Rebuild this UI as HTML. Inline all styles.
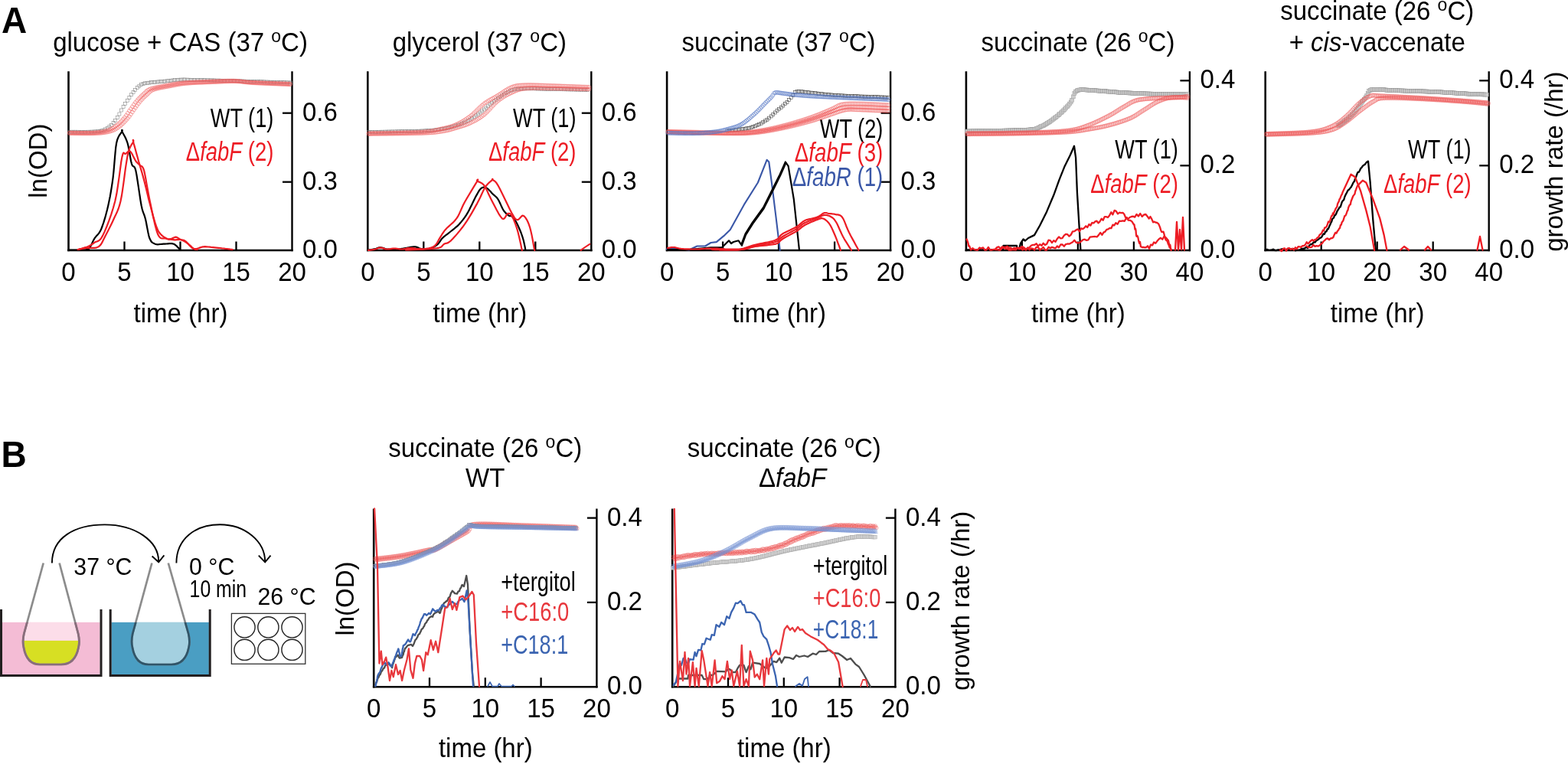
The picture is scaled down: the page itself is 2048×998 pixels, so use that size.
<!DOCTYPE html>
<html><head><meta charset="utf-8"><title>Figure</title>
<style>html,body{margin:0;padding:0;background:#fff;}svg{display:block;}
text{font-family:"Liberation Sans",Arial,Helvetica,sans-serif;}</style></head>
<body>
<svg width="2048" height="998" viewBox="0 0 2048 998" font-family="'Liberation Sans', Arial, Helvetica, sans-serif">
<defs><marker id="m0" markerUnits="userSpaceOnUse" markerWidth="7.1" markerHeight="7.1" refX="3.55" refY="3.55" overflow="visible"><rect x="1.5499999999999998" y="1.5499999999999998" width="4.0" height="4.0" fill="none" stroke="#808080" stroke-width="0.55"/></marker><marker id="m1" markerUnits="userSpaceOnUse" markerWidth="7.8" markerHeight="7.8" refX="3.9" refY="3.9" overflow="visible"><circle cx="3.9" cy="3.9" r="2.4" fill="none" stroke="#ee5a5a" stroke-width="0.5"/></marker><marker id="m2" markerUnits="userSpaceOnUse" markerWidth="7.1" markerHeight="7.1" refX="3.55" refY="3.55" overflow="visible"><rect x="1.5499999999999998" y="1.5499999999999998" width="4.0" height="4.0" fill="none" stroke="#3a3a3a" stroke-width="0.55"/></marker><marker id="m3" markerUnits="userSpaceOnUse" markerWidth="8.2" markerHeight="8.2" refX="4.1" refY="4.1" overflow="visible"><circle cx="4.1" cy="4.1" r="2.5" fill="none" stroke="#5577c4" stroke-width="0.6"/></marker><marker id="m4" markerUnits="userSpaceOnUse" markerWidth="7.8" markerHeight="7.8" refX="3.9" refY="3.9" overflow="visible"><rect x="1.4" y="1.4" width="5.0" height="5.0" fill="#cdcdcd" stroke="#8a8a8a" stroke-width="0.4"/></marker><marker id="m5" markerUnits="userSpaceOnUse" markerWidth="8.100000000000001" markerHeight="8.100000000000001" refX="4.050000000000001" refY="4.050000000000001" overflow="visible"><circle cx="4.050000000000001" cy="4.050000000000001" r="2.6" fill="none" stroke="#ee5a5a" stroke-width="0.45"/></marker><marker id="m6" markerUnits="userSpaceOnUse" markerWidth="7.5" markerHeight="7.5" refX="3.75" refY="3.75" overflow="visible"><circle cx="3.75" cy="3.75" r="2.3" fill="none" stroke="#ee5a5a" stroke-width="0.45"/></marker><marker id="m7" markerUnits="userSpaceOnUse" markerWidth="6.6" markerHeight="6.6" refX="3.3" refY="3.3" overflow="visible"><rect x="1.4999999999999998" y="1.4999999999999998" width="3.6" height="3.6" fill="none" stroke="#888" stroke-width="0.5"/></marker><marker id="m8" markerUnits="userSpaceOnUse" markerWidth="7.5" markerHeight="7.5" refX="3.75" refY="3.75" overflow="visible"><circle cx="3.75" cy="3.75" r="2.3" fill="none" stroke="#7591d2" stroke-width="0.45"/></marker><marker id="m9" markerUnits="userSpaceOnUse" markerWidth="7.5" markerHeight="7.5" refX="3.75" refY="3.75" overflow="visible"><path d="M3.75,1.4500000000000002l2.3,4.14h-4.6z" fill="none" stroke="#7591d2" stroke-width="0.45"/></marker><marker id="m10" markerUnits="userSpaceOnUse" markerWidth="7.6" markerHeight="7.6" refX="3.8" refY="3.8" overflow="visible"><rect x="1.4" y="1.4" width="4.8" height="4.8" fill="#d6d6d6" stroke="#a0a0a0" stroke-width="0.4"/></marker></defs>
<rect width="2048" height="998" fill="#fff"/>
<text transform="translate(2,43) scale(1,1.04)" font-size="46" font-weight="bold">A</text>
<text transform="translate(1.5,609.6) scale(1,1.04)" font-size="46" font-weight="bold">B</text>
<text transform="translate(235.5,67) scale(1,1.04)" font-size="33" text-anchor="middle">glucose + CAS (37 <tspan font-size="23" dy="-12">o</tspan><tspan dy="12">C)</tspan></text>
<text transform="translate(626.3,67) scale(1,1.04)" font-size="33" text-anchor="middle">glycerol (37 <tspan font-size="23" dy="-12">o</tspan><tspan dy="12">C)</tspan></text>
<text transform="translate(1017.1,67) scale(1,1.04)" font-size="33" text-anchor="middle">succinate (37 <tspan font-size="23" dy="-12">o</tspan><tspan dy="12">C)</tspan></text>
<text transform="translate(1407.9,67) scale(1,1.04)" font-size="33" text-anchor="middle">succinate (26 <tspan font-size="23" dy="-12">o</tspan><tspan dy="12">C)</tspan></text>
<text transform="translate(1798.7,26.2) scale(1,1.04)" font-size="33" text-anchor="middle">succinate (26 <tspan font-size="23" dy="-12">o</tspan><tspan dy="12">C)</tspan></text>
<text transform="translate(1798.7,67) scale(1,1.04)" font-size="33" text-anchor="middle">+ <tspan font-style="italic">cis</tspan>-vaccenate</text>
<line x1="89.5" y1="93.2" x2="89.5" y2="328.2" stroke="#000" stroke-width="2.6" stroke-linecap="butt"/>
<line x1="381.5" y1="93.2" x2="381.5" y2="328.2" stroke="#000" stroke-width="2.4" stroke-linecap="butt"/>
<line x1="88.2" y1="327" x2="382.7" y2="327" stroke="#000" stroke-width="2.4" stroke-linecap="butt"/>
<line x1="162.5" y1="327" x2="162.5" y2="315.5" stroke="#000" stroke-width="2.3" stroke-linecap="butt"/>
<line x1="235.5" y1="327" x2="235.5" y2="315.5" stroke="#000" stroke-width="2.3" stroke-linecap="butt"/>
<line x1="308.5" y1="327" x2="308.5" y2="315.5" stroke="#000" stroke-width="2.3" stroke-linecap="butt"/>
<line x1="381.5" y1="237.7" x2="369" y2="237.7" stroke="#000" stroke-width="2.3" stroke-linecap="butt"/>
<line x1="381.5" y1="147.7" x2="369" y2="147.7" stroke="#000" stroke-width="2.3" stroke-linecap="butt"/>
<text transform="translate(89.5,367) scale(1,1.04)" font-size="33" text-anchor="middle" fill="#000">0</text>
<text transform="translate(162.5,367) scale(1,1.04)" font-size="33" text-anchor="middle" fill="#000">5</text>
<text transform="translate(235.5,367) scale(1,1.04)" font-size="33" text-anchor="middle" fill="#000">10</text>
<text transform="translate(308.5,367) scale(1,1.04)" font-size="33" text-anchor="middle" fill="#000">15</text>
<text transform="translate(381.5,367) scale(1,1.04)" font-size="33" text-anchor="middle" fill="#000">20</text>
<text transform="translate(395,247.7) scale(1,1.04)" font-size="33" text-anchor="start" fill="#000">0.3</text>
<text transform="translate(395,157.7) scale(1,1.04)" font-size="33" text-anchor="start" fill="#000">0.6</text>
<text transform="translate(395,337) scale(1,1.04)" font-size="33" text-anchor="start" fill="#000">0.0</text>
<text transform="translate(236,421) scale(1,1.04)" font-size="33" text-anchor="middle" fill="#000">time (hr)</text>
<line x1="480.3" y1="93.2" x2="480.3" y2="328.2" stroke="#000" stroke-width="2.6" stroke-linecap="butt"/>
<line x1="772.3" y1="93.2" x2="772.3" y2="328.2" stroke="#000" stroke-width="2.4" stroke-linecap="butt"/>
<line x1="479" y1="327" x2="773.5" y2="327" stroke="#000" stroke-width="2.4" stroke-linecap="butt"/>
<line x1="553.3" y1="327" x2="553.3" y2="315.5" stroke="#000" stroke-width="2.3" stroke-linecap="butt"/>
<line x1="626.3" y1="327" x2="626.3" y2="315.5" stroke="#000" stroke-width="2.3" stroke-linecap="butt"/>
<line x1="699.3" y1="327" x2="699.3" y2="315.5" stroke="#000" stroke-width="2.3" stroke-linecap="butt"/>
<line x1="772.3" y1="237.7" x2="759.8" y2="237.7" stroke="#000" stroke-width="2.3" stroke-linecap="butt"/>
<line x1="772.3" y1="147.7" x2="759.8" y2="147.7" stroke="#000" stroke-width="2.3" stroke-linecap="butt"/>
<text transform="translate(480.3,367) scale(1,1.04)" font-size="33" text-anchor="middle" fill="#000">0</text>
<text transform="translate(553.3,367) scale(1,1.04)" font-size="33" text-anchor="middle" fill="#000">5</text>
<text transform="translate(626.3,367) scale(1,1.04)" font-size="33" text-anchor="middle" fill="#000">10</text>
<text transform="translate(699.3,367) scale(1,1.04)" font-size="33" text-anchor="middle" fill="#000">15</text>
<text transform="translate(772.3,367) scale(1,1.04)" font-size="33" text-anchor="middle" fill="#000">20</text>
<text transform="translate(785.8,247.7) scale(1,1.04)" font-size="33" text-anchor="start" fill="#000">0.3</text>
<text transform="translate(785.8,157.7) scale(1,1.04)" font-size="33" text-anchor="start" fill="#000">0.6</text>
<text transform="translate(785.8,337) scale(1,1.04)" font-size="33" text-anchor="start" fill="#000">0.0</text>
<text transform="translate(626.8,421) scale(1,1.04)" font-size="33" text-anchor="middle" fill="#000">time (hr)</text>
<line x1="871.1" y1="93.2" x2="871.1" y2="328.2" stroke="#000" stroke-width="2.6" stroke-linecap="butt"/>
<line x1="1163.1" y1="93.2" x2="1163.1" y2="328.2" stroke="#000" stroke-width="2.4" stroke-linecap="butt"/>
<line x1="869.8" y1="327" x2="1164.3" y2="327" stroke="#000" stroke-width="2.4" stroke-linecap="butt"/>
<line x1="944.1" y1="327" x2="944.1" y2="315.5" stroke="#000" stroke-width="2.3" stroke-linecap="butt"/>
<line x1="1017.1" y1="327" x2="1017.1" y2="315.5" stroke="#000" stroke-width="2.3" stroke-linecap="butt"/>
<line x1="1090.1" y1="327" x2="1090.1" y2="315.5" stroke="#000" stroke-width="2.3" stroke-linecap="butt"/>
<line x1="1163.1" y1="237.7" x2="1150.6" y2="237.7" stroke="#000" stroke-width="2.3" stroke-linecap="butt"/>
<line x1="1163.1" y1="147.7" x2="1150.6" y2="147.7" stroke="#000" stroke-width="2.3" stroke-linecap="butt"/>
<text transform="translate(871.1,367) scale(1,1.04)" font-size="33" text-anchor="middle" fill="#000">0</text>
<text transform="translate(944.1,367) scale(1,1.04)" font-size="33" text-anchor="middle" fill="#000">5</text>
<text transform="translate(1017.1,367) scale(1,1.04)" font-size="33" text-anchor="middle" fill="#000">10</text>
<text transform="translate(1090.1,367) scale(1,1.04)" font-size="33" text-anchor="middle" fill="#000">15</text>
<text transform="translate(1163.1,367) scale(1,1.04)" font-size="33" text-anchor="middle" fill="#000">20</text>
<text transform="translate(1176.6,247.7) scale(1,1.04)" font-size="33" text-anchor="start" fill="#000">0.3</text>
<text transform="translate(1176.6,157.7) scale(1,1.04)" font-size="33" text-anchor="start" fill="#000">0.6</text>
<text transform="translate(1176.6,337) scale(1,1.04)" font-size="33" text-anchor="start" fill="#000">0.0</text>
<text transform="translate(1017.6,421) scale(1,1.04)" font-size="33" text-anchor="middle" fill="#000">time (hr)</text>
<line x1="1261.9" y1="93.2" x2="1261.9" y2="328.2" stroke="#000" stroke-width="2.6" stroke-linecap="butt"/>
<line x1="1553.9" y1="93.2" x2="1553.9" y2="328.2" stroke="#000" stroke-width="2.4" stroke-linecap="butt"/>
<line x1="1260.6" y1="327" x2="1555.1" y2="327" stroke="#000" stroke-width="2.4" stroke-linecap="butt"/>
<line x1="1334.9" y1="327" x2="1334.9" y2="315.5" stroke="#000" stroke-width="2.3" stroke-linecap="butt"/>
<line x1="1407.9" y1="327" x2="1407.9" y2="315.5" stroke="#000" stroke-width="2.3" stroke-linecap="butt"/>
<line x1="1480.9" y1="327" x2="1480.9" y2="315.5" stroke="#000" stroke-width="2.3" stroke-linecap="butt"/>
<line x1="1553.9" y1="216.3" x2="1541.4" y2="216.3" stroke="#000" stroke-width="2.3" stroke-linecap="butt"/>
<line x1="1553.9" y1="105.3" x2="1541.4" y2="105.3" stroke="#000" stroke-width="2.3" stroke-linecap="butt"/>
<text transform="translate(1261.9,367) scale(1,1.04)" font-size="33" text-anchor="middle" fill="#000">0</text>
<text transform="translate(1334.9,367) scale(1,1.04)" font-size="33" text-anchor="middle" fill="#000">10</text>
<text transform="translate(1407.9,367) scale(1,1.04)" font-size="33" text-anchor="middle" fill="#000">20</text>
<text transform="translate(1480.9,367) scale(1,1.04)" font-size="33" text-anchor="middle" fill="#000">30</text>
<text transform="translate(1553.9,367) scale(1,1.04)" font-size="33" text-anchor="middle" fill="#000">40</text>
<text transform="translate(1567.4,226.3) scale(1,1.04)" font-size="33" text-anchor="start" fill="#000">0.2</text>
<text transform="translate(1567.4,115.3) scale(1,1.04)" font-size="33" text-anchor="start" fill="#000">0.4</text>
<text transform="translate(1567.4,337) scale(1,1.04)" font-size="33" text-anchor="start" fill="#000">0.0</text>
<text transform="translate(1408.4,421) scale(1,1.04)" font-size="33" text-anchor="middle" fill="#000">time (hr)</text>
<line x1="1652.7" y1="93.2" x2="1652.7" y2="328.2" stroke="#000" stroke-width="2.6" stroke-linecap="butt"/>
<line x1="1944.7" y1="93.2" x2="1944.7" y2="328.2" stroke="#000" stroke-width="2.4" stroke-linecap="butt"/>
<line x1="1651.4" y1="327" x2="1945.9" y2="327" stroke="#000" stroke-width="2.4" stroke-linecap="butt"/>
<line x1="1725.7" y1="327" x2="1725.7" y2="315.5" stroke="#000" stroke-width="2.3" stroke-linecap="butt"/>
<line x1="1798.7" y1="327" x2="1798.7" y2="315.5" stroke="#000" stroke-width="2.3" stroke-linecap="butt"/>
<line x1="1871.7" y1="327" x2="1871.7" y2="315.5" stroke="#000" stroke-width="2.3" stroke-linecap="butt"/>
<line x1="1944.7" y1="216.3" x2="1932.2" y2="216.3" stroke="#000" stroke-width="2.3" stroke-linecap="butt"/>
<line x1="1944.7" y1="105.3" x2="1932.2" y2="105.3" stroke="#000" stroke-width="2.3" stroke-linecap="butt"/>
<text transform="translate(1652.7,367) scale(1,1.04)" font-size="33" text-anchor="middle" fill="#000">0</text>
<text transform="translate(1725.7,367) scale(1,1.04)" font-size="33" text-anchor="middle" fill="#000">10</text>
<text transform="translate(1798.7,367) scale(1,1.04)" font-size="33" text-anchor="middle" fill="#000">20</text>
<text transform="translate(1871.7,367) scale(1,1.04)" font-size="33" text-anchor="middle" fill="#000">30</text>
<text transform="translate(1944.7,367) scale(1,1.04)" font-size="33" text-anchor="middle" fill="#000">40</text>
<text transform="translate(1958.2,226.3) scale(1,1.04)" font-size="33" text-anchor="start" fill="#000">0.2</text>
<text transform="translate(1958.2,115.3) scale(1,1.04)" font-size="33" text-anchor="start" fill="#000">0.4</text>
<text transform="translate(1958.2,337) scale(1,1.04)" font-size="33" text-anchor="start" fill="#000">0.0</text>
<text transform="translate(1799.2,421) scale(1,1.04)" font-size="33" text-anchor="middle" fill="#000">time (hr)</text>
<text transform="translate(61,210.2) rotate(-90)" font-size="33" text-anchor="middle">ln(OD)</text>
<text transform="translate(2041,211.1) rotate(-90)" font-size="32.4" text-anchor="middle" textLength="235.5" lengthAdjust="spacingAndGlyphs">growth rate (/hr)</text>
<text transform="translate(357.3,165.8) scale(1,1.04)" font-size="33" text-anchor="end" fill="#000" textLength="82.5" lengthAdjust="spacingAndGlyphs">WT (1)</text>
<text transform="translate(357.3,209.8) scale(1,1.04)" font-size="33" text-anchor="end" fill="#ed1c24" textLength="114.5" lengthAdjust="spacingAndGlyphs">&#916;<tspan font-style="italic">fabF</tspan> (2)</text>
<text transform="translate(752.5,165.8) scale(1,1.04)" font-size="33" text-anchor="end" fill="#000" textLength="82.5" lengthAdjust="spacingAndGlyphs">WT (1)</text>
<text transform="translate(752.5,209.8) scale(1,1.04)" font-size="33" text-anchor="end" fill="#ed1c24" textLength="114.5" lengthAdjust="spacingAndGlyphs">&#916;<tspan font-style="italic">fabF</tspan> (2)</text>
<text transform="translate(1153.3,179.6) scale(1,1.04)" font-size="33" text-anchor="end" fill="#000" textLength="82.5" lengthAdjust="spacingAndGlyphs">WT (2)</text>
<text transform="translate(1153.3,211.1) scale(1,1.04)" font-size="33" text-anchor="end" fill="#ed1c24" textLength="115.5" lengthAdjust="spacingAndGlyphs">&#916;<tspan font-style="italic">fabF</tspan> (3)</text>
<text transform="translate(1153.3,243) scale(1,1.04)" font-size="33" text-anchor="end" fill="#3a57a7" textLength="118.5" lengthAdjust="spacingAndGlyphs">&#916;<tspan font-style="italic">fabR</tspan> (1)</text>
<text transform="translate(1538.8,207) scale(1,1.04)" font-size="33" text-anchor="end" fill="#000" textLength="82.5" lengthAdjust="spacingAndGlyphs">WT (1)</text>
<text transform="translate(1538.8,252.1) scale(1,1.04)" font-size="33" text-anchor="end" fill="#ed1c24" textLength="114.5" lengthAdjust="spacingAndGlyphs">&#916;<tspan font-style="italic">fabF</tspan> (2)</text>
<text transform="translate(1921.6,207) scale(1,1.04)" font-size="33" text-anchor="end" fill="#000" textLength="82.5" lengthAdjust="spacingAndGlyphs">WT (1)</text>
<text transform="translate(1921.6,252.1) scale(1,1.04)" font-size="33" text-anchor="end" fill="#ed1c24" textLength="114.5" lengthAdjust="spacingAndGlyphs">&#916;<tspan font-style="italic">fabF</tspan> (2)</text>
<polyline points="90.9,172.2 93.5,172.2 96.1,172.2 98.7,172.2 101.3,172.2 103.9,172.3 106.5,172.3 109.1,172.3 111.7,172.3 114.3,172.2 116.9,172.2 119.5,172.1 122.1,172 124.7,171.9 127.3,171.7 129.9,171.3 132.5,170.8 135.1,170.1 137.7,168.9 140.3,167.3 142.9,165.3 145.5,163.3 148.1,160.7 150.7,157.4 153.3,153.6 155.9,149 158.5,144 161.1,139.5 163.7,135.3 166.3,131.2 168.9,127.4 171.5,123.8 174.1,120.4 176.7,117.4 179.3,114.5 181.9,112.2 184.5,110.5 187.1,109.4 189.7,108.8 192.3,108.4 194.9,108.1 197.5,107.7 200.1,107.5 202.7,107.2 205.3,107 207.9,106.8 210.5,106.5 213.1,106.3 215.7,106.1 218.3,105.8 220.9,105.6 223.5,105.2 226.1,104.9 228.7,104.6 231.3,104.4 233.9,104.2 236.5,104.1 239.1,104 241.7,104 244.3,104.1 246.9,104.2 249.5,104.3 252.1,104.3 254.7,104.4 257.3,104.5 259.9,104.5 262.5,104.6 265.1,104.7 267.7,104.7 270.3,104.8 272.9,104.8 275.5,104.9 278.1,104.9 280.7,105 283.3,105.1 285.9,105.1 288.5,105.2 291.1,105.3 293.7,105.3 296.3,105.4 298.9,105.5 301.5,105.5 304.1,105.6 306.7,105.7 309.3,105.8 311.9,105.9 314.5,105.9 317.1,106 319.7,106.1 322.3,106.2 324.9,106.3 327.5,106.3 330.1,106.4 332.7,106.5 335.3,106.6 337.9,106.7 340.5,106.7 343.1,106.8 345.7,106.9 348.3,107 350.9,107.1 353.5,107.2 356.1,107.2 358.7,107.3 361.3,107.4 363.9,107.5 366.5,107.6 369.1,107.7 371.7,107.7 374.3,107.8 376.9,107.9 379.5,108" fill="none" stroke="none" marker-start="url(#m0)" marker-mid="url(#m0)" marker-end="url(#m0)"/>
<polyline points="90.9,173.4 92.9,173.4 94.9,173.4 96.9,173.5 98.9,173.5 100.9,173.5 102.9,173.6 104.9,173.6 106.9,173.6 108.9,173.6 110.9,173.6 112.9,173.6 114.9,173.6 116.9,173.6 118.9,173.5 120.9,173.4 122.9,173.3 124.9,173.2 126.9,173 128.9,172.8 130.9,172.5 132.9,172.2 134.9,171.9 136.9,171.4 138.9,170.9 140.9,170.3 142.9,169.6 144.9,168.7 146.9,167.7 148.9,166.4 150.9,164.9 152.9,163.4 154.9,161.7 156.9,159.8 158.9,157.7 160.9,155.5 162.9,153.2 164.9,150.7 166.9,147.8 168.9,144.8 170.9,142.1 172.9,139.3 174.9,136.5 176.9,133.8 178.9,131.4 180.9,129.1 182.9,127.1 184.9,125.1 186.9,123.3 188.9,121.5 190.9,119.5 192.9,117.9 194.9,116.8 196.9,116 198.9,115.4 200.9,114.9 202.9,114.4 204.9,114 206.9,113.6 208.9,113.2 210.9,112.9 212.9,112.5 214.9,112.1 216.9,111.8 218.9,111.4 220.9,111 222.9,110.6 224.9,110.2 226.9,109.8 228.9,109.5 230.9,109.2 232.9,108.9 234.9,108.6 236.9,108.4 238.9,108.2 240.9,108 242.9,107.9 244.9,107.7 246.9,107.6 248.9,107.5 250.9,107.4 252.9,107.3 254.9,107.2 256.9,107.1 258.9,107 260.9,107 262.9,106.9 264.9,106.8 266.9,106.7 268.9,106.7 270.9,106.6 272.9,106.5 274.9,106.4 276.9,106.3 278.9,106.2 280.9,106.2 282.9,106.1 284.9,106 286.9,105.9 288.9,105.8 290.9,105.7 292.9,105.6 294.9,105.6 296.9,105.5 298.9,105.5 300.9,105.5 302.9,105.5 304.9,105.5 306.9,105.6 308.9,105.7 310.9,105.9 312.9,106.1 314.9,106.4 316.9,106.7 318.9,106.9 320.9,107.1 322.9,107.3 324.9,107.4 326.9,107.5 328.9,107.6 330.9,107.7 332.9,107.8 334.9,107.9 336.9,108 338.9,108.1 340.9,108.1 342.9,108.2 344.9,108.3 346.9,108.4 348.9,108.5 350.9,108.5 352.9,108.6 354.9,108.7 356.9,108.8 358.9,108.8 360.9,108.9 362.9,109 364.9,109 366.9,109.1 368.9,109.2 370.9,109.3 372.9,109.3 374.9,109.4 376.9,109.5 378.9,109.6" fill="none" stroke="none" marker-start="url(#m1)" marker-mid="url(#m1)" marker-end="url(#m1)"/>
<polyline points="90.9,174.2 92.9,174.2 94.9,174.2 96.9,174.3 98.9,174.3 100.9,174.3 102.9,174.3 104.9,174.4 106.9,174.4 108.9,174.4 110.9,174.4 112.9,174.4 114.9,174.4 116.9,174.4 118.9,174.4 120.9,174.4 122.9,174.3 124.9,174.2 126.9,174.1 128.9,174 130.9,173.9 132.9,173.7 134.9,173.4 136.9,173.1 138.9,172.8 140.9,172.4 142.9,171.9 144.9,171.3 146.9,170.6 148.9,169.8 150.9,168.8 152.9,167.5 154.9,166.1 156.9,164.6 158.9,162.9 160.9,161.1 162.9,159.1 164.9,156.9 166.9,154.6 168.9,152.2 170.9,149.3 172.9,146.4 174.9,143.5 176.9,140.8 178.9,138 180.9,135.3 182.9,132.8 184.9,130.5 186.9,128.4 188.9,126.4 190.9,124.6 192.9,122.8 194.9,120.8 196.9,119 198.9,117.8 200.9,117 202.9,116.3 204.9,115.8 206.9,115.3 208.9,114.9 210.9,114.5 212.9,114.1 214.9,113.8 216.9,113.4 218.9,113 220.9,112.7 222.9,112.3 224.9,111.9 226.9,111.5 228.9,111.1 230.9,110.7 232.9,110.4 234.9,110 236.9,109.7 238.9,109.5 240.9,109.2 242.9,109 244.9,108.9 246.9,108.7 248.9,108.6 250.9,108.4 252.9,108.3 254.9,108.2 256.9,108.1 258.9,108 260.9,107.9 262.9,107.9 264.9,107.8 266.9,107.7 268.9,107.6 270.9,107.5 272.9,107.5 274.9,107.4 276.9,107.3 278.9,107.2 280.9,107.2 282.9,107.1 284.9,107 286.9,106.9 288.9,106.8 290.9,106.7 292.9,106.6 294.9,106.5 296.9,106.5 298.9,106.4 300.9,106.3 302.9,106.3 304.9,106.3 306.9,106.3 308.9,106.3 310.9,106.4 312.9,106.5 314.9,106.6 316.9,106.8 318.9,107.1 320.9,107.4 322.9,107.6 324.9,107.8 326.9,108 328.9,108.1 330.9,108.3 332.9,108.4 334.9,108.5 336.9,108.6 338.9,108.7 340.9,108.8 342.9,108.9 344.9,109 346.9,109.1 348.9,109.1 350.9,109.2 352.9,109.3 354.9,109.4 356.9,109.5 358.9,109.6 360.9,109.6 362.9,109.7 364.9,109.8 366.9,109.9 368.9,110 370.9,110 372.9,110.1 374.9,110.2 376.9,110.3 378.9,110.4" fill="none" stroke="none" marker-start="url(#m1)" marker-mid="url(#m1)" marker-end="url(#m1)"/>
<polyline points="89,326.5 91.8,326.5 95.8,326.5 100.4,326.5 105.1,326.4 109.4,326.3 112.5,326 114.5,325.6 115.7,325.2 116.4,324.6 116.8,323.9 117.3,323.1 118,322 118.9,320.7 119.6,319.1 120.4,317.4 121.3,315.5 122.2,313.6 123.3,311.7 124.6,309.9 126,308.3 127.6,306.6 129.2,304.6 130.8,302.2 132.3,299 133.8,295 135.4,290.3 137,285.2 138.5,279.7 140,274 141.3,268.4 142.5,262.8 143.7,257 144.7,251.2 145.7,245.1 146.7,238.7 147.6,232.1 148.4,224.7 149.1,216.6 149.8,208.2 150.5,200.2 151.2,192.9 152.1,187 153.2,182.5 154.6,179.1 156,176.5 157.4,174.6 158.6,173 159.4,171.7 159.7,170.6 159.7,170 159.4,169.8 159.1,170 159.1,170.6 159.4,171.7 160.2,173.2 161.3,175.2 162.7,177.7 164.1,180.5 165.4,183.6 166.6,187 167.6,191 168.5,195.8 169.4,200.9 170.3,206 171.1,210.5 172,214.1 172.9,216.2 173.7,217.1 174.6,217.5 175.5,218.1 176.4,219.7 177.4,223.1 178.5,228.8 179.7,236.5 181,245.1 182.3,253.8 183.5,261.8 184.6,268.2 185.6,272.7 186.5,275.9 187.4,278.4 188.3,280.7 189.1,283.1 190,286.2 190.9,290.2 191.7,294.7 192.6,299.4 193.5,304 194.4,308.1 195.4,311.3 196.5,313.6 197.5,315.4 198.7,316.6 199.9,317.4 201.2,318.1 202.6,318.7 204.2,319.1 206,319.3 207.8,319.2 209.7,319 211.6,318.8 213.5,318.7 215.4,318.6 217.3,318.5 219.3,318.3 221.2,318.2 222.9,318.2 224.3,318.2 225.4,318.3 226.3,318.5 226.9,318.7 227.6,319 228.2,319.4 229,320 230,320.8 231.2,321.9 232.3,323.1 233.5,324.3 234.4,325.3 235.1,326" fill="none" stroke="#000" stroke-width="2.2" stroke-linejoin="round" stroke-linecap="round"/>
<polyline points="101.6,326 102.7,325.8 104.2,325.5 106,325.1 108.1,324.7 110.3,324.3 112.5,324 115,323.8 117.8,323.9 120.7,323.9 123.6,323.8 126.4,323.3 128.7,322.3 130.6,320.7 132.2,318.7 133.5,316.4 134.8,313.7 136.2,310.9 137.7,307.9 139.4,304.7 141.2,301.3 143.1,297.6 145,293.8 146.8,290 148.5,286.2 150.1,282.7 151.7,279.5 153.2,276.2 154.7,272.5 156.1,268.2 157.5,262.8 158.9,255.8 160.2,247.3 161.5,238.1 162.7,229 163.8,220.7 164.8,214.1 165.6,209.2 166.2,205.6 166.7,202.7 167.2,200.4 167.7,198.3 168.4,196.1 169.3,193.7 170.4,191.5 171.5,189.5 172.5,187.8 173.5,186.3 174.1,185.2 174.3,184.3 174.3,183.5 174,182.9 173.8,182.9 173.8,183.6 174.1,185.2 174.8,188 175.9,191.8 177.1,196.3 178.4,201.1 179.8,206 181,210.5 182.2,214.6 183.3,218.5 184.5,222.4 185.7,226.5 186.9,230.9 188.2,235.7 189.6,241.2 191.1,247.2 192.6,253.5 194.1,259.9 195.7,266.1 197.2,271.8 198.7,277.2 200.1,282.6 201.6,287.8 203.1,292.7 204.6,297 206.2,300.7 208,303.7 209.9,306 211.8,307.9 213.8,309.3 215.6,310.5 217.1,311.5 218.4,312.2 219.4,312.5 220.3,312.6 221.2,312.4 222,312.2 223,312 224.1,311.7 225.2,311.2 226.3,310.7 227.5,310.2 228.6,309.8 229.7,309.7 230.8,309.9 231.8,310.4 232.9,311.1 233.9,311.8 235,312.5 236,313 237,313.3 237.9,313.5 238.9,313.6 239.9,313.9 241,314.3 242.3,315.1 243.8,316.4 245.5,318.3 247.3,320.4 249.2,322.3 251.1,324 253.1,325 255.1,325.2 257.2,324.9 259.3,324.2 261.4,323.4 263.6,322.7 265.7,322.3 267.8,322.2 269.9,322.3 272,322.5 274.1,322.7 276.2,323 278.4,323.2 280.6,323.4 282.9,323.6 285.3,323.8 287.6,324 289.8,324.3 292,324.5 294.2,324.8 296.4,325 298.6,325.3 300.7,325.6 302.4,325.8 303.6,326" fill="none" stroke="#ed1c24" stroke-width="2.2" stroke-linejoin="round" stroke-linecap="round"/>
<polyline points="103.4,325.5 104.7,325.1 106.5,324.7 108.7,324.1 110.9,323.4 113.1,322.7 115,322 116.5,321.3 117.9,320.6 119.2,319.8 120.5,318.9 121.8,318 123.3,316.9 124.9,316 126.5,315.5 128.2,314.9 130,313.7 132,311.5 134.1,307.9 136.6,302.6 139.4,296 142.3,288.4 145.2,280.1 147.9,271.5 150.3,262.8 152.3,253.3 154,242.5 155.6,231.4 157,220.8 158.2,211.8 159.4,205.1 160.4,201.3 161.2,199.7 161.9,199.6 162.5,200.3 163.2,201 164,201 164.9,200.2 165.9,199.3 166.9,198.4 168,197.7 169.1,197.5 170.2,197.9 171.4,199.2 172.6,201.2 173.8,203.7 175.1,206.2 176.3,208.6 177.4,210.5 178.4,211.8 179.4,212.8 180.3,213.6 181.2,214.3 182.1,215.1 183,216 183.9,216.7 184.7,217.1 185.5,217.5 186.3,218.4 187.2,220.1 188.2,223.1 189.2,227.6 190.3,233.2 191.4,239.7 192.7,246.7 194,253.9 195.4,261 197,268.6 198.7,277 200.6,285.6 202.5,293.7 204.4,300.8 206.2,306.1 208,309.3 209.8,311 211.7,311.5 213.5,311.4 215.3,311.3 217.1,311.5 218.9,312 220.8,312.4 222.6,312.7 224.4,313 226.2,313.1 227.9,313.3 229.5,313.3 231,313.2 232.5,313.1 234,313 235.4,313 236.9,313.3 238.4,313.9 240,314.7 241.5,315.6 243,316.6 244.5,317.7 245.9,318.7 247.2,319.8 248.5,320.9 249.8,322.1 250.9,323.3 252.1,324.2 253.1,325 254.1,325.5 255.1,325.8 256,325.9 256.8,325.9 257.5,326 258,326" fill="none" stroke="#ed1c24" stroke-width="2.2" stroke-linejoin="round" stroke-linecap="round"/>
<polyline points="481.5,172.5 484.1,172.4 486.7,172.4 489.3,172.4 491.9,172.3 494.5,172.3 497.1,172.2 499.7,172.2 502.3,172.1 504.9,172.1 507.5,172 510.1,172 512.7,171.9 515.3,171.9 517.9,171.8 520.5,171.8 523.1,171.7 525.7,171.7 528.3,171.6 530.9,171.6 533.5,171.5 536.1,171.5 538.7,171.4 541.3,171.3 543.9,171.2 546.5,171.2 549.1,171.1 551.7,171 554.3,170.9 556.9,170.7 559.5,170.6 562.1,170.4 564.7,170.2 567.3,170 569.9,169.7 572.5,169.4 575.1,169 577.7,168.6 580.3,168.2 582.9,167.7 585.5,167.1 588.1,166.5 590.7,165.8 593.3,165 595.9,164.1 598.5,163.2 601.1,162.2 603.7,161.2 606.3,160.1 608.9,158.9 611.5,157.6 614.1,156.1 616.7,154.5 619.3,152.8 621.9,150.9 624.5,149 627.1,147 629.7,145 632.3,143 634.9,141 637.5,138.8 640.1,136.6 642.7,134.5 645.3,132.3 647.9,130.3 650.5,128.4 653.1,126.6 655.7,124.9 658.3,123.2 660.9,121.6 663.5,120.2 666.1,118.9 668.7,117.9 671.3,117.1 673.9,116.5 676.5,116.2 679.1,116 681.7,115.9 684.3,115.9 686.9,115.8 689.5,115.8 692.1,115.8 694.7,115.8 697.3,115.8 699.9,115.9 702.5,116 705.1,116 707.7,116.1 710.3,116.2 712.9,116.3 715.5,116.3 718.1,116.4 720.7,116.5 723.3,116.5 725.9,116.6 728.5,116.6 731.1,116.7 733.7,116.7 736.3,116.8 738.9,116.8 741.5,116.9 744.1,116.9 746.7,117 749.3,117 751.9,117.1 754.5,117.1 757.1,117.2 759.7,117.2 762.3,117.3 764.9,117.3 767.5,117.4" fill="none" stroke="none" marker-start="url(#m0)" marker-mid="url(#m0)" marker-end="url(#m0)"/>
<polyline points="481.5,174.2 483.5,174.2 485.5,174.1 487.5,174.1 489.5,174 491.5,174 493.5,174 495.5,173.9 497.5,173.9 499.5,173.9 501.5,173.8 503.5,173.8 505.5,173.8 507.5,173.7 509.5,173.7 511.5,173.6 513.5,173.6 515.5,173.6 517.5,173.5 519.5,173.5 521.5,173.4 523.5,173.4 525.5,173.3 527.5,173.3 529.5,173.2 531.5,173.2 533.5,173.1 535.5,173.1 537.5,173 539.5,172.9 541.5,172.9 543.5,172.8 545.5,172.7 547.5,172.6 549.5,172.5 551.5,172.4 553.5,172.2 555.5,172.1 557.5,171.9 559.5,171.7 561.5,171.4 563.5,171.2 565.5,170.8 567.5,170.5 569.5,170 571.5,169.5 573.5,169 575.5,168.5 577.5,168.1 579.5,167.6 581.5,167.2 583.5,166.7 585.5,166.2 587.5,165.7 589.5,165.1 591.5,164.4 593.5,163.7 595.5,162.8 597.5,161.9 599.5,161 601.5,159.9 603.5,158.8 605.5,157.7 607.5,156.4 609.5,155.1 611.5,153.7 613.5,152.3 615.5,150.7 617.5,149.1 619.5,147.2 621.5,145.3 623.5,143.3 625.5,141.4 627.5,139.5 629.5,137.7 631.5,136 633.5,134.5 635.5,133.2 637.5,131.9 639.5,130.7 641.5,129.6 643.5,128.5 645.5,127.4 647.5,126.3 649.5,125.1 651.5,123.9 653.5,122.6 655.5,121.3 657.5,120 659.5,118.6 661.5,117.4 663.5,116.2 665.5,115.1 667.5,114.2 669.5,113.4 671.5,112.8 673.5,112.2 675.5,111.8 677.5,111.6 679.5,111.4 681.5,111.3 683.5,111.2 685.5,111.1 687.5,111.1 689.5,111 691.5,111 693.5,111 695.5,111.1 697.5,111.1 699.5,111.2 701.5,111.2 703.5,111.3 705.5,111.4 707.5,111.4 709.5,111.5 711.5,111.6 713.5,111.7 715.5,111.8 717.5,111.8 719.5,111.9 721.5,112 723.5,112 725.5,112.1 727.5,112.2 729.5,112.2 731.5,112.3 733.5,112.4 735.5,112.5 737.5,112.5 739.5,112.6 741.5,112.7 743.5,112.8 745.5,112.8 747.5,112.9 749.5,113 751.5,113.1 753.5,113.2 755.5,113.2 757.5,113.3 759.5,113.4 761.5,113.5 763.5,113.5 765.5,113.6 767.5,113.7 769.5,113.8" fill="none" stroke="none" marker-start="url(#m1)" marker-mid="url(#m1)" marker-end="url(#m1)"/>
<polyline points="481.5,175 483.5,175 485.5,175 487.5,174.9 489.5,174.9 491.5,174.9 493.5,174.9 495.5,174.9 497.5,174.8 499.5,174.8 501.5,174.8 503.5,174.8 505.5,174.8 507.5,174.7 509.5,174.7 511.5,174.7 513.5,174.7 515.5,174.6 517.5,174.6 519.5,174.6 521.5,174.6 523.5,174.5 525.5,174.5 527.5,174.5 529.5,174.5 531.5,174.4 533.5,174.4 535.5,174.4 537.5,174.3 539.5,174.3 541.5,174.3 543.5,174.2 545.5,174.2 547.5,174.1 549.5,174.1 551.5,174 553.5,173.9 555.5,173.8 557.5,173.7 559.5,173.6 561.5,173.5 563.5,173.4 565.5,173.2 567.5,173 569.5,172.8 571.5,172.5 573.5,172.2 575.5,171.9 577.5,171.6 579.5,171.3 581.5,170.9 583.5,170.5 585.5,170.1 587.5,169.6 589.5,169 591.5,168.4 593.5,167.8 595.5,167.2 597.5,166.6 599.5,166 601.5,165.4 603.5,164.8 605.5,164.2 607.5,163.5 609.5,162.7 611.5,161.9 613.5,161.1 615.5,160.1 617.5,159.1 619.5,158.1 621.5,157.1 623.5,155.9 625.5,154.7 627.5,153.4 629.5,152 631.5,150.5 633.5,148.9 635.5,147 637.5,145 639.5,142.9 641.5,140.7 643.5,138.5 645.5,136.4 647.5,134.4 649.5,132.6 651.5,130.9 653.5,129.5 655.5,128.1 657.5,126.8 659.5,125.5 661.5,124.4 663.5,123.4 665.5,122.4 667.5,121.4 669.5,120.5 671.5,119.6 673.5,118.7 675.5,117.9 677.5,117.3 679.5,116.7 681.5,116.3 683.5,116 685.5,115.7 687.5,115.5 689.5,115.4 691.5,115.3 693.5,115.2 695.5,115.1 697.5,115.1 699.5,115.1 701.5,115.1 703.5,115.2 705.5,115.2 707.5,115.2 709.5,115.3 711.5,115.3 713.5,115.3 715.5,115.4 717.5,115.4 719.5,115.5 721.5,115.5 723.5,115.5 725.5,115.5 727.5,115.6 729.5,115.6 731.5,115.6 733.5,115.7 735.5,115.7 737.5,115.8 739.5,115.8 741.5,115.8 743.5,115.9 745.5,115.9 747.5,116 749.5,116 751.5,116.1 753.5,116.1 755.5,116.2 757.5,116.2 759.5,116.3 761.5,116.3 763.5,116.3 765.5,116.4 767.5,116.4 769.5,116.5" fill="none" stroke="none" marker-start="url(#m1)" marker-mid="url(#m1)" marker-end="url(#m1)"/>
<polyline points="480.8,326.9 481.8,326.7 483.3,326.4 485,326.1 486.7,325.7 488.5,325.3 490,325 491.3,324.7 492.5,324.3 493.6,323.9 494.7,323.6 495.8,323.3 497.1,323.3 498.4,323.5 499.8,323.9 501.2,324.4 502.7,324.9 504.3,325.3 506.1,325.6 508.2,325.7 510.5,325.8 513,325.8 515.5,325.7 517.9,325.6 520,325.5 521.9,325.3 523.5,325.1 525.1,324.8 526.6,324.6 528.3,324.3 530,324 532,323.7 534.1,323.3 536.2,322.9 538.4,322.6 540.4,322.4 542.2,322.4 543.7,322.6 545,323 546.2,323.6 547.4,324.2 548.6,324.7 550,325 551.6,325.2 553.2,325.4 554.9,325.6 556.7,325.6 558.4,325.4 560.2,325.1 562,324.6 563.9,323.8 565.8,323 567.6,322 569.4,320.9 571,319.7 572.4,318.4 573.6,316.9 574.7,315.3 575.8,313.7 576.9,312.1 578.2,310.7 579.6,309.4 580.9,308.3 582.4,307.2 583.9,306.1 585.5,304.9 587.2,303.5 589.1,302 591.2,300.3 593.4,298.6 595.7,296.7 597.9,294.8 599.9,292.7 601.8,290.6 603.6,288.4 605.4,286.1 607.2,283.7 608.9,281.1 610.7,278.2 612.5,274.9 614.4,271.1 616.3,267.2 618.2,263.3 619.9,259.7 621.5,256.6 622.9,254.1 624.2,251.8 625.3,249.9 626.4,248.2 627.5,246.9 628.7,245.8 629.9,245.1 631.1,244.7 632.3,244.7 633.5,244.9 634.7,245.3 635.9,245.8 637.1,246.6 638.3,247.7 639.5,249 640.8,250.3 642,251.7 643.2,253 644.4,254.1 645.6,255.1 646.8,256.2 648,257.3 649.2,258.6 650.4,260.2 651.6,262.3 652.8,264.7 654,267.4 655.2,270.1 656.4,272.5 657.6,274.6 658.8,276.3 660.1,277.8 661.4,279.1 662.7,280.1 663.8,281.1 664.8,281.8 665.6,282.2 666.1,282.2 666.6,282 667.1,281.8 667.6,281.9 668.4,282.5 669.4,283.6 670.5,284.9 671.8,286.5 673.1,288.4 674.4,290.4 675.6,292.7 676.8,295.3 678.1,298.2 679.4,301.3 680.7,304.5 681.8,307.7 682.8,310.7 683.7,313.7 684.4,316.8 685.1,319.9 685.7,322.8 686.1,325.2 686.5,326.9" fill="none" stroke="#000" stroke-width="2.2" stroke-linejoin="round" stroke-linecap="round"/>
<polyline points="481,326.9 482,326.8 483.4,326.6 485.1,326.3 486.8,326.1 488.5,325.8 490,325.5 491.3,325.2 492.4,324.7 493.6,324.3 494.7,323.9 495.8,323.6 497,323.5 498.3,323.6 499.5,324 500.8,324.4 502.1,324.9 503.5,325.3 505,325.5 506.6,325.5 508.2,325.3 509.9,325.1 511.6,324.8 513.3,324.6 515,324.5 516.7,324.6 518.3,324.8 520,325 521.7,325.3 523.3,325.5 525,325.5 526.7,325.4 528.3,325.1 530,324.8 531.7,324.4 533.3,324.1 535,324 536.7,324 538.3,324.2 539.9,324.4 541.6,324.6 543.3,324.9 545,325 546.8,325.1 548.6,325.2 550.4,325.3 552.3,325.3 554.1,325.2 556,325 557.9,324.7 559.9,324.4 561.9,323.9 563.9,323.3 565.7,322.5 567.4,321.5 568.8,320.1 570.1,318.4 571.3,316.6 572.4,314.6 573.4,312.6 574.6,310.7 575.7,308.9 576.7,307.2 577.7,305.5 578.9,303.8 580.2,301.9 581.8,299.9 583.8,297.8 586.2,295.6 588.8,293.3 591.5,290.9 594,288.3 596.3,285.4 598.3,282.3 600,278.9 601.6,275.4 603.2,271.7 605,267.8 607.1,263.8 609.7,259.3 612.7,254.2 615.9,248.9 618.9,243.9 621.5,239.7 623.3,236.7 624.1,235.1 624.2,234.5 623.8,234.7 623.2,235.3 623,236.1 623.3,236.7 624.3,237.1 625.6,237.6 627.2,238.3 629,239.2 630.7,240.4 632.3,242.1 633.7,244.3 635.1,246.9 636.5,249.9 638,253.2 639.6,256.6 641.4,260.2 643.6,264.4 646.1,269.2 648.7,274.3 651.3,279.1 653.8,282.9 655.8,285.4 657.4,286.1 658.8,285.3 660,283.7 661,281.7 662,280 663,279.1 664,278.9 664.9,278.8 665.7,278.9 666.5,279.4 667.4,280.4 668.4,281.8 669.5,283.8 670.7,286.4 671.9,289.3 673.2,292.6 674.4,296.2 675.6,299.9 676.8,304.2 678,309.2 679.2,314.5 680.3,319.6 681.2,323.9 681.9,326.9" fill="none" stroke="#ed1c24" stroke-width="2.2" stroke-linejoin="round" stroke-linecap="round"/>
<polyline points="530,326.5 533.5,326.4 538.4,326.2 544.2,325.9 550.2,325.6 555.7,325.4 560.2,325.1 563.6,324.9 566.5,324.6 569,324.4 571.1,324.1 572.9,323.8 574.6,323.3 576,322.7 576.9,322 577.6,321.2 578.3,320.4 579,319.6 580,318.8 581.2,318.2 582.4,317.9 583.7,317.6 585.2,317.1 586.9,316 589,314.3 591.5,311.8 594.4,308.6 597.6,304.9 600.9,300.9 604.1,296.8 607.1,292.7 610,288.4 612.8,283.9 615.7,279.1 618.4,274.4 620.9,269.9 623.3,265.6 625.4,261.5 627.4,257.5 629.1,253.7 630.8,250.1 632.5,246.8 634.1,244 635.8,241.7 637.6,239.7 639.3,238.1 640.9,236.8 642.2,235.7 643.2,234.9 643.6,234.3 643.6,234 643.3,233.9 643,234 642.9,234.4 643.2,234.9 643.9,235.3 644.7,235.7 645.7,236.2 646.9,237.3 648.5,239.1 650.4,242.1 652.9,246.8 656,253 659.4,260 662.8,267.1 665.9,273.4 668.4,278.2 670.2,281.4 671.6,283.7 672.6,285.3 673.5,286.3 674.5,286.8 675.6,287.2 676.9,286.9 678.2,285.7 679.6,284.2 681,282.7 682.3,281.7 683.7,281.8 685.1,282.9 686.5,284.6 687.9,286.8 689.3,289.5 690.6,292.7 691.9,296.3 693.1,300.8 694.4,306.4 695.6,312.5 696.6,318.4 697.5,323.4 698.2,326.9" fill="none" stroke="#ed1c24" stroke-width="2.2" stroke-linejoin="round" stroke-linecap="round"/>
<polyline points="758.6,326.9 764,323 770.3,318.8" fill="none" stroke="#ed1c24" stroke-width="2.1" stroke-linejoin="round" stroke-linecap="round"/>
<polyline points="950,171 952.6,170.7 955.2,170.5 957.8,170.1 960.4,169.8 963,169.4 965.6,169.1 968.2,168.8 970.8,168.5 973.4,168.1 976,167.7 978.6,167.2 981.2,166.5 983.8,165.7 986.4,164.8 989,163.7 991.6,162.4 994.2,161.1 996.8,159.6 999.4,157.9 1002,156.2 1004.6,154.1 1007.2,151.9 1009.8,149.4 1012.4,147 1015,144.6 1017.6,142.4 1020.2,140.2 1022.8,138 1025.4,135.7 1028,133.3 1030.6,130.6 1033.2,127.7 1035.8,124.7 1038.4,120.3 1041,119.5 1043.6,119.5 1046.2,119.6 1048.8,119.9 1051.4,120.2 1054,120.5 1056.6,120.8 1059.2,121.1 1061.8,121.3 1064.4,121.6 1067,122 1069.6,122.3 1072.2,122.6 1074.8,122.9 1077.4,123.2 1080,123.4 1082.6,123.7 1085.2,123.9 1087.8,124.1 1090.4,124.3 1093,124.5 1095.6,124.7 1098.2,124.8 1100.8,124.9 1103.4,125.1 1106,125.2 1108.6,125.3 1111.2,125.4 1113.8,125.5 1116.4,125.6 1119,125.7 1121.6,125.9 1124.2,126 1126.8,126.1 1129.4,126.2 1132,126.2 1134.6,126.3 1137.2,126.4 1139.8,126.5 1142.4,126.6 1145,126.7 1147.6,126.8 1150.2,126.9 1152.8,127 1155.4,127.1 1158,127.2 1160.6,127.3" fill="none" stroke="none" marker-start="url(#m2)" marker-mid="url(#m2)" marker-end="url(#m2)"/>
<polyline points="872.5,171.5 874.5,171.6 876.5,171.6 878.5,171.7 880.5,171.7 882.5,171.8 884.5,171.8 886.5,171.9 888.5,171.9 890.5,172 892.5,172.1 894.5,172.1 896.5,172.2 898.5,172.2 900.5,172.3 902.5,172.3 904.5,172.4 906.5,172.4 908.5,172.5 910.5,172.5 912.5,172.6 914.5,172.7 916.5,172.7 918.5,172.8 920.5,172.8 922.5,172.8 924.5,172.9 926.5,172.9 928.5,173 930.5,173 932.5,173.1 934.5,173.1 936.5,173.1 938.5,173.2 940.5,173.2 942.5,173.2 944.5,173.3 946.5,173.3 948.5,173.3 950.5,173.3 952.5,173.3 954.5,173.3 956.5,173.3 958.5,173.3 960.5,173.3 962.5,173.2 964.5,173.2 966.5,173.1 968.5,173.1 970.5,173 972.5,172.9 974.5,172.7 976.5,172.6 978.5,172.4 980.5,172.2 982.5,172 984.5,171.7 986.5,171.5 988.5,171.2 990.5,170.9 992.5,170.6 994.5,170.3 996.5,170 998.5,169.6 1000.5,169.2 1002.5,168.8 1004.5,168.4 1006.5,168 1008.5,167.6 1010.5,167.1 1012.5,166.7 1014.5,166.2 1016.5,165.7 1018.5,165.2 1020.5,164.7 1022.5,164.2 1024.5,163.7 1026.5,163.2 1028.5,162.7 1030.5,162.1 1032.5,161.6 1034.5,161 1036.5,160.4 1038.5,159.8 1040.5,159.2 1042.5,158.6 1044.5,158 1046.5,157.4 1048.5,156.8 1050.5,156.1 1052.5,155.5 1054.5,154.8 1056.5,154.1 1058.5,153.5 1060.5,152.8 1062.5,152 1064.5,151.3 1066.5,150.5 1068.5,149.8 1070.5,149 1072.5,148.2 1074.5,147.3 1076.5,146.5 1078.5,145.7 1080.5,144.8 1082.5,144 1084.5,143.1 1086.5,142.3 1088.5,141.3 1090.5,140.3 1092.5,139.2 1094.5,138.1 1096.5,137.3 1098.5,136.6 1100.5,136.2 1102.5,135.9 1104.5,135.6 1106.5,135.5 1108.5,135.4 1110.5,135.3 1112.5,135.3 1114.5,135.3 1116.5,135.3 1118.5,135.4 1120.5,135.4 1122.5,135.4 1124.5,135.5 1126.5,135.5 1128.5,135.6 1130.5,135.7 1132.5,135.8 1134.5,135.9 1136.5,135.9 1138.5,136 1140.5,136.1 1142.5,136.2 1144.5,136.3 1146.5,136.4 1148.5,136.5 1150.5,136.7 1152.5,136.8 1154.5,136.9 1156.5,137 1158.5,137.1 1160.5,137.2" fill="none" stroke="none" marker-start="url(#m1)" marker-mid="url(#m1)" marker-end="url(#m1)"/>
<polyline points="872.5,172.5 874.5,172.6 876.5,172.6 878.5,172.7 880.5,172.7 882.5,172.8 884.5,172.8 886.5,172.9 888.5,172.9 890.5,173 892.5,173.1 894.5,173.1 896.5,173.2 898.5,173.2 900.5,173.3 902.5,173.3 904.5,173.4 906.5,173.4 908.5,173.5 910.5,173.5 912.5,173.6 914.5,173.7 916.5,173.7 918.5,173.8 920.5,173.8 922.5,173.8 924.5,173.9 926.5,173.9 928.5,174 930.5,174 932.5,174.1 934.5,174.1 936.5,174.1 938.5,174.2 940.5,174.2 942.5,174.2 944.5,174.3 946.5,174.3 948.5,174.3 950.5,174.3 952.5,174.3 954.5,174.3 956.5,174.3 958.5,174.3 960.5,174.2 962.5,174.2 964.5,174.2 966.5,174.1 968.5,174 970.5,173.9 972.5,173.8 974.5,173.7 976.5,173.5 978.5,173.3 980.5,173.1 982.5,172.9 984.5,172.7 986.5,172.5 988.5,172.2 990.5,172 992.5,171.7 994.5,171.4 996.5,171.1 998.5,170.8 1000.5,170.4 1002.5,170.1 1004.5,169.7 1006.5,169.3 1008.5,169 1010.5,168.6 1012.5,168.1 1014.5,167.7 1016.5,167.3 1018.5,166.9 1020.5,166.4 1022.5,166 1024.5,165.5 1026.5,165 1028.5,164.5 1030.5,164 1032.5,163.5 1034.5,163 1036.5,162.4 1038.5,161.9 1040.5,161.3 1042.5,160.8 1044.5,160.2 1046.5,159.6 1048.5,159 1050.5,158.4 1052.5,157.8 1054.5,157.2 1056.5,156.6 1058.5,156 1060.5,155.3 1062.5,154.6 1064.5,154 1066.5,153.2 1068.5,152.5 1070.5,151.8 1072.5,151 1074.5,150.2 1076.5,149.4 1078.5,148.7 1080.5,147.9 1082.5,147.1 1084.5,146.4 1086.5,145.6 1088.5,144.8 1090.5,144 1092.5,143.2 1094.5,142.4 1096.5,141.7 1098.5,141.3 1100.5,140.9 1102.5,140.6 1104.5,140.4 1106.5,140.2 1108.5,140.1 1110.5,140.1 1112.5,140 1114.5,140 1116.5,140 1118.5,140 1120.5,140 1122.5,140 1124.5,140 1126.5,140.1 1128.5,140.2 1130.5,140.2 1132.5,140.3 1134.5,140.4 1136.5,140.4 1138.5,140.5 1140.5,140.6 1142.5,140.7 1144.5,140.8 1146.5,140.9 1148.5,140.9 1150.5,141 1152.5,141.1 1154.5,141.2 1156.5,141.3 1158.5,141.4 1160.5,141.5" fill="none" stroke="none" marker-start="url(#m1)" marker-mid="url(#m1)" marker-end="url(#m1)"/>
<polyline points="872.5,172.5 874.5,172.5 876.5,172.6 878.5,172.6 880.5,172.7 882.5,172.8 884.5,172.8 886.5,172.9 888.5,172.9 890.5,173 892.5,173 894.5,173.1 896.5,173.1 898.5,173.2 900.5,173.2 902.5,173.3 904.5,173.3 906.5,173.4 908.5,173.4 910.5,173.5 912.5,173.5 914.5,173.6 916.5,173.6 918.5,173.7 920.5,173.7 922.5,173.8 924.5,173.8 926.5,173.9 928.5,173.9 930.5,174 932.5,174 934.5,174 936.5,174.1 938.5,174.1 940.5,174.2 942.5,174.2 944.5,174.2 946.5,174.3 948.5,174.3 950.5,174.3 952.5,174.3 954.5,174.3 956.5,174.4 958.5,174.4 960.5,174.4 962.5,174.4 964.5,174.4 966.5,174.4 968.5,174.4 970.5,174.4 972.5,174.4 974.5,174.3 976.5,174.2 978.5,174.1 980.5,174 982.5,173.8 984.5,173.7 986.5,173.5 988.5,173.3 990.5,173.1 992.5,172.8 994.5,172.5 996.5,172.3 998.5,172 1000.5,171.6 1002.5,171.3 1004.5,171 1006.5,170.6 1008.5,170.3 1010.5,169.9 1012.5,169.5 1014.5,169.1 1016.5,168.7 1018.5,168.3 1020.5,167.9 1022.5,167.5 1024.5,167 1026.5,166.6 1028.5,166.2 1030.5,165.7 1032.5,165.2 1034.5,164.8 1036.5,164.3 1038.5,163.8 1040.5,163.3 1042.5,162.8 1044.5,162.3 1046.5,161.7 1048.5,161.2 1050.5,160.7 1052.5,160.1 1054.5,159.6 1056.5,159 1058.5,158.5 1060.5,157.9 1062.5,157.3 1064.5,156.7 1066.5,156 1068.5,155.3 1070.5,154.7 1072.5,154 1074.5,153.3 1076.5,152.6 1078.5,151.9 1080.5,151.2 1082.5,150.5 1084.5,149.8 1086.5,149.2 1088.5,148.5 1090.5,147.8 1092.5,147.1 1094.5,146.4 1096.5,145.7 1098.5,145.1 1100.5,144.5 1102.5,144 1104.5,143.6 1106.5,143.3 1108.5,143.1 1110.5,143 1112.5,143 1114.5,143.2 1116.5,143.3 1118.5,143.4 1120.5,143.5 1122.5,143.5 1124.5,143.6 1126.5,143.7 1128.5,143.8 1130.5,143.8 1132.5,143.9 1134.5,144 1136.5,144.1 1138.5,144.2 1140.5,144.3 1142.5,144.4 1144.5,144.5 1146.5,144.5 1148.5,144.6 1150.5,144.7 1152.5,144.8 1154.5,144.9 1156.5,145 1158.5,145.1 1160.5,145.2" fill="none" stroke="none" marker-start="url(#m1)" marker-mid="url(#m1)" marker-end="url(#m1)"/>
<polyline points="872.5,173.7 874.3,173.7 876.1,173.8 877.9,173.8 879.7,173.9 881.5,173.9 883.3,174 885.1,174 886.9,174.1 888.7,174.1 890.5,174.1 892.3,174.2 894.1,174.2 895.9,174.2 897.7,174.2 899.5,174.2 901.3,174.2 903.1,174.2 904.9,174.2 906.7,174.2 908.5,174.1 910.3,174 912.1,174 913.9,173.9 915.7,173.8 917.5,173.7 919.3,173.6 921.1,173.4 922.9,173.3 924.7,173.2 926.5,173 928.3,172.8 930.1,172.6 931.9,172.4 933.7,172.2 935.5,172 937.3,171.7 939.1,171.4 940.9,171.1 942.7,170.7 944.5,170.3 946.3,169.8 948.1,169.4 949.9,168.9 951.7,168.4 953.5,167.9 955.3,167.4 957.1,166.9 958.9,166.4 960.7,165.8 962.5,165.2 964.3,164.4 966.1,163.6 967.9,162.7 969.7,161.6 971.5,160.4 973.3,159.1 975.1,157.7 976.9,156.3 978.7,154.8 980.5,153.2 982.3,151.6 984.1,150.1 985.9,148.5 987.7,146.8 989.5,145.1 991.3,143.3 993.1,141.5 994.9,139.6 996.7,137.7 998.5,135.8 1000.3,134 1002.1,132.2 1003.9,130.4 1005.7,128.7 1007.5,126.8 1009.3,124.5 1011.1,121.7 1012.9,120.9 1014.7,120.8 1016.5,121 1018.3,121.3 1020.1,121.6 1021.9,121.8 1023.7,122.1 1025.5,122.3 1027.3,122.5 1029.1,122.8 1030.9,123 1032.7,123.2 1034.5,123.5 1036.3,123.6 1038.1,123.8 1039.9,124 1041.7,124.2 1043.5,124.4 1045.3,124.5 1047.1,124.7 1048.9,124.8 1050.7,125 1052.5,125.1 1054.3,125.2 1056.1,125.4 1057.9,125.5 1059.7,125.6 1061.5,125.7 1063.3,125.8 1065.1,125.9 1066.9,126 1068.7,126.1 1070.5,126.2 1072.3,126.3 1074.1,126.4 1075.9,126.5 1077.7,126.5 1079.5,126.6 1081.3,126.7 1083.1,126.8 1084.9,126.9 1086.7,127 1088.5,127 1090.3,127.1 1092.1,127.2 1093.9,127.3 1095.7,127.4 1097.5,127.4 1099.3,127.5 1101.1,127.6 1102.9,127.7 1104.7,127.7 1106.5,127.8 1108.3,127.9 1110.1,128 1111.9,128 1113.7,128.1 1115.5,128.2 1117.3,128.3 1119.1,128.3 1120.9,128.4 1122.7,128.5 1124.5,128.5 1126.3,128.6 1128.1,128.7 1129.9,128.8 1131.7,128.8 1133.5,128.9 1135.3,129 1137.1,129 1138.9,129.1 1140.7,129.2 1142.5,129.3 1144.3,129.3 1146.1,129.4 1147.9,129.5 1149.7,129.5 1151.5,129.6 1153.3,129.7 1155.1,129.8 1156.9,129.8 1158.7,129.9 1160.5,130" fill="none" stroke="none" marker-start="url(#m3)" marker-mid="url(#m3)" marker-end="url(#m3)"/>
<polyline points="870.8,325.5 880,324 890,325.5 900,326.5 910.5,321.5 921,321.5 928.5,317 935.8,316.1 946.6,307.1 953.8,299.9 971.8,267.4 989.9,238.5 1001.6,208.8 1004.3,211.5 1007.9,238.5 1013.3,281.8 1018.7,326.9" fill="none" stroke="#3a57a7" stroke-width="2.1" stroke-linejoin="round" stroke-linecap="round"/>
<polyline points="872,326 900,326 928.5,323.3 943,323.3 952,314.3 955,318 958,316 964.6,314.3 968.2,319.7 973.6,305.3 982.7,290.9 997.1,271 1009.7,245.8 1018.7,227.7 1025.9,211.5 1029.6,216.9 1036.8,260.2 1044,326.9" fill="none" stroke="#000" stroke-width="2.2" stroke-linejoin="round" stroke-linecap="round"/>
<polyline points="969,321.2 974.4,306.8 983.5,292.4 997.9,272.5 1010.5,247.3 1019.5,229.2 1026.7,213" fill="none" stroke="#000" stroke-width="1.6" stroke-linejoin="round" stroke-linecap="round"/>
<polyline points="872,324 872.8,323.9 874,323.6 875.4,323.4 876.9,323.1 878.5,323 880,323 881.4,323.2 882.8,323.5 884.2,323.9 885.9,324.3 887.7,324.7 890,325 892.8,325.2 895.9,325.3 899.4,325.4 903,325.5 906.6,325.5 910,325.5 913.3,325.4 916.7,325.2 920,325 923.3,324.7 926.7,324.6 930,324.5 933.4,324.6 936.7,324.7 940.1,325 943.5,325.2 946.8,325.4 950,325.5 953.1,325.6 956.2,325.7 959.2,325.7 962.2,325.7 965.2,325.5 968.2,325.1 971.2,324.5 974.2,323.6 977.3,322.6 980.3,321.6 983.3,320.6 986.3,319.7 989.4,319 992.6,318.4 995.8,317.8 998.8,317.2 1001.7,316.7 1004.3,316.1 1006.6,315.5 1008.6,315 1010.4,314.5 1012,314 1013.6,313.3 1015.1,312.5 1016.4,311.5 1017.4,310.4 1018.2,309.2 1019.2,308 1020.5,306.6 1022.3,305.3 1024.8,303.9 1027.8,302.4 1031.1,300.9 1034.5,299.3 1037.7,297.8 1040.4,296.3 1042.6,294.8 1044.3,293.4 1045.9,291.9 1047.5,290.5 1049.2,289.2 1051.2,288.1 1053.7,287.1 1056.5,286.4 1059.4,285.7 1062.3,285 1065.1,284.4 1067.4,283.6 1069.3,282.7 1071,281.6 1072.5,280.6 1073.8,279.6 1075.1,278.8 1076.4,278.2 1077.6,278 1078.7,278 1079.8,278.2 1080.8,278.5 1081.9,278.8 1083,279 1084.2,279.1 1085.5,279.2 1086.8,279.3 1088.1,279.5 1089.5,279.7 1090.9,280 1092.3,280.3 1093.8,280.4 1095.3,280.6 1096.9,281.1 1098.4,282 1099.9,283.6 1101.4,285.9 1102.8,288.9 1104.2,292.3 1105.6,296 1107.2,299.8 1108.9,303.5 1110.9,307.5 1113.3,311.9 1115.8,316.4 1118.1,320.7 1120.1,324.3 1121.5,326.9" fill="none" stroke="#ed1c24" stroke-width="2.2" stroke-linejoin="round" stroke-linecap="round"/>
<polyline points="930,326 934.4,326.1 940.6,326.2 948,326.3 955.5,326.4 962.6,326.3 968.2,326 972.4,325.4 975.7,324.6 978.5,323.7 981,322.7 983.5,321.8 986.3,321 989.4,320.4 992.6,319.9 995.8,319.4 998.8,318.9 1001.7,318.5 1004.3,318 1006.6,317.5 1008.6,317.1 1010.4,316.7 1012,316.2 1013.6,315.7 1015.1,315 1016.4,314.2 1017.4,313.4 1018.2,312.4 1019.2,311.4 1020.5,310.3 1022.3,309 1024.8,307.5 1027.8,305.9 1031.1,304.1 1034.5,302.3 1037.7,300.6 1040.4,299 1042.6,297.5 1044.3,296.1 1045.9,294.8 1047.5,293.4 1049.2,292.2 1051.2,291 1053.7,289.9 1056.5,288.8 1059.4,287.8 1062.3,286.8 1065.1,285.9 1067.4,285 1069.3,284.1 1070.9,283.3 1072.4,282.5 1073.7,281.8 1075,281.3 1076.4,281 1077.9,280.9 1079.4,281 1080.8,281.3 1082.3,281.7 1083.7,282.3 1085,283 1086.2,283.7 1087.4,284.5 1088.5,285.4 1089.6,286.6 1090.7,288.1 1092,290 1093.4,292.5 1094.8,295.5 1096.2,298.8 1097.8,302.3 1099.4,305.8 1101,309 1102.8,312.3 1104.9,315.7 1107.1,319.1 1109.1,322.3 1110.8,325 1112,326.9" fill="none" stroke="#ed1c24" stroke-width="2.2" stroke-linejoin="round" stroke-linecap="round"/>
<polyline points="940,326.5 943.2,326.5 947.7,326.5 953,326.5 958.5,326.4 963.8,326.3 968.2,326 971.8,325.5 975,324.9 977.9,324.1 980.6,323.3 983.4,322.6 986.3,322 989.4,321.6 992.6,321.2 995.8,320.9 998.8,320.6 1001.7,320.3 1004.3,320 1006.6,319.7 1008.6,319.5 1010.4,319.2 1012,319 1013.6,318.6 1015.1,318 1016.4,317.3 1017.4,316.4 1018.2,315.5 1019.2,314.4 1020.5,313.3 1022.3,312 1024.8,310.5 1027.8,308.9 1031.1,307.1 1034.5,305.3 1037.7,303.6 1040.4,302 1042.6,300.5 1044.3,299.1 1045.9,297.8 1047.5,296.5 1049.2,295.3 1051.2,294 1053.7,292.7 1056.5,291.4 1059.5,290.1 1062.4,288.9 1065.1,287.8 1067.4,287 1069.2,286.3 1070.6,285.8 1071.7,285.4 1072.8,285.2 1073.8,285.2 1075,285.5 1076.3,286 1077.7,286.8 1079,287.8 1080.4,289 1081.7,290.4 1083,292 1084.2,293.8 1085.4,295.9 1086.5,298.1 1087.6,300.5 1088.8,303.2 1090,306 1091.4,309.3 1092.9,313.2 1094.4,317.3 1095.9,321.2 1097.1,324.5 1098,326.9" fill="none" stroke="#ed1c24" stroke-width="2.2" stroke-linejoin="round" stroke-linecap="round"/>
<polyline points="1262.6,171.5 1264.2,171.5 1265.8,171.4 1267.4,171.4 1269,171.4 1270.6,171.3 1272.2,171.3 1273.8,171.3 1275.4,171.3 1277,171.2 1278.6,171.2 1280.2,171.2 1281.8,171.2 1283.4,171.1 1285,171.1 1286.6,171.1 1288.2,171 1289.8,171 1291.4,171 1293,171 1294.6,170.9 1296.2,170.9 1297.8,170.9 1299.4,170.8 1301,170.8 1302.6,170.8 1304.2,170.7 1305.8,170.7 1307.4,170.7 1309,170.7 1310.6,170.6 1312.2,170.6 1313.8,170.5 1315.4,170.5 1317,170.5 1318.6,170.4 1320.2,170.4 1321.8,170.4 1323.4,170.3 1325,170.3 1326.6,170.2 1328.2,170.2 1329.8,170.1 1331.4,170.1 1333,170 1334.6,170 1336.2,169.9 1337.8,169.8 1339.4,169.7 1341,169.7 1342.6,169.6 1344.2,169.5 1345.8,169.3 1347.4,169.2 1349,169.1 1350.6,168.9 1352.2,168.6 1353.8,168.2 1355.4,167.4 1357,166.6 1358.6,165.9 1360.2,165.2 1361.8,164.5 1363.4,163.6 1365,162.7 1366.6,161.8 1368.2,160.8 1369.8,159.8 1371.4,158.7 1373,157.6 1374.6,156.5 1376.2,155.4 1377.8,154.2 1379.4,152.9 1381,151.6 1382.6,150.3 1384.2,148.9 1385.8,147.4 1387.4,145.9 1389,144.4 1390.6,142.8 1392.2,141.2 1393.8,139.4 1395.4,137.6 1397,135.6 1398.6,133.4 1400.2,130.9 1401.8,126.4 1403.4,121.9 1405,119.6 1406.6,118.5 1408.2,117.9 1409.8,117.5 1411.4,117.3 1413,117.2 1414.6,117.2 1416.2,117.3 1417.8,117.4 1419.4,117.5 1421,117.6 1422.6,117.7 1424.2,117.9 1425.8,118 1427.4,118.1 1429,118.2 1430.6,118.3 1432.2,118.4 1433.8,118.5 1435.4,118.6 1437,118.7 1438.6,118.8 1440.2,119 1441.8,119.1 1443.4,119.2 1445,119.4 1446.6,119.5 1448.2,119.6 1449.8,119.8 1451.4,119.9 1453,120 1454.6,120.2 1456.2,120.3 1457.8,120.4 1459.4,120.5 1461,120.7 1462.6,120.8 1464.2,120.9 1465.8,121 1467.4,121 1469,121.1 1470.6,121.2 1472.2,121.3 1473.8,121.4 1475.4,121.5 1477,121.5 1478.6,121.6 1480.2,121.7 1481.8,121.8 1483.4,121.8 1485,121.9 1486.6,122 1488.2,122 1489.8,122.1 1491.4,122.2 1493,122.2 1494.6,122.3 1496.2,122.4 1497.8,122.4 1499.4,122.5 1501,122.5 1502.6,122.6 1504.2,122.6 1505.8,122.7 1507.4,122.7 1509,122.7 1510.6,122.8 1512.2,122.8 1513.8,122.8 1515.4,122.9 1517,122.9 1518.6,122.9 1520.2,122.9 1521.8,122.9 1523.4,122.9 1525,122.9 1526.6,122.9 1528.2,122.9 1529.8,122.9 1531.4,122.9 1533,122.9 1534.6,122.9 1536.2,122.9 1537.8,122.9 1539.4,122.9 1541,122.9 1542.6,122.9 1544.2,122.8 1545.8,122.8 1547.4,122.8 1549,122.8 1550.6,122.8" fill="none" stroke="none" marker-start="url(#m4)" marker-mid="url(#m4)" marker-end="url(#m4)"/>
<polyline points="1263.3,174.2 1264.8,174.2 1266.3,174.2 1267.8,174.2 1269.3,174.1 1270.8,174.1 1272.3,174.1 1273.8,174.1 1275.3,174.1 1276.8,174.1 1278.3,174.1 1279.8,174.1 1281.3,174.1 1282.8,174 1284.3,174 1285.8,174 1287.3,174 1288.8,174 1290.3,174 1291.8,174 1293.3,174 1294.8,174 1296.3,173.9 1297.8,173.9 1299.3,173.9 1300.8,173.9 1302.3,173.9 1303.8,173.9 1305.3,173.9 1306.8,173.8 1308.3,173.8 1309.8,173.8 1311.3,173.8 1312.8,173.8 1314.3,173.8 1315.8,173.7 1317.3,173.7 1318.8,173.7 1320.3,173.7 1321.8,173.7 1323.3,173.6 1324.8,173.6 1326.3,173.6 1327.8,173.6 1329.3,173.5 1330.8,173.5 1332.3,173.5 1333.8,173.5 1335.3,173.4 1336.8,173.4 1338.3,173.4 1339.8,173.3 1341.3,173.3 1342.8,173.2 1344.3,173.2 1345.8,173.2 1347.3,173.1 1348.8,173.1 1350.3,173 1351.8,173 1353.3,173 1354.8,172.9 1356.3,172.9 1357.8,172.8 1359.3,172.8 1360.8,172.7 1362.3,172.7 1363.8,172.6 1365.3,172.6 1366.8,172.5 1368.3,172.5 1369.8,172.4 1371.3,172.3 1372.8,172.3 1374.3,172.2 1375.8,172.1 1377.3,172 1378.8,172 1380.3,171.9 1381.8,171.8 1383.3,171.7 1384.8,171.6 1386.3,171.5 1387.8,171.3 1389.3,171.2 1390.8,171.1 1392.3,170.9 1393.8,170.7 1395.3,170.6 1396.8,170.4 1398.3,170.2 1399.8,169.9 1401.3,169.7 1402.8,169.4 1404.3,169.1 1405.8,168.8 1407.3,168.4 1408.8,168 1410.3,167.6 1411.8,167.1 1413.3,166.6 1414.8,166.1 1416.3,165.6 1417.8,165 1419.3,164.4 1420.8,163.9 1422.3,163.3 1423.8,162.8 1425.3,162.2 1426.8,161.5 1428.3,160.9 1429.8,160.3 1431.3,159.6 1432.8,158.9 1434.3,158.2 1435.8,157.5 1437.3,156.8 1438.8,156 1440.3,155.3 1441.8,154.6 1443.3,153.8 1444.8,153 1446.3,152.3 1447.8,151.5 1449.3,150.7 1450.8,149.9 1452.3,149 1453.8,148.2 1455.3,147.3 1456.8,146.3 1458.3,145.4 1459.8,144.4 1461.3,143.5 1462.8,142.5 1464.3,141.6 1465.8,140.7 1467.3,139.8 1468.8,139 1470.3,138.1 1471.8,137.2 1473.3,136.3 1474.8,135.4 1476.3,134.5 1477.8,133.7 1479.3,133 1480.8,132.4 1482.3,131.8 1483.8,131.3 1485.3,130.9 1486.8,130.5 1488.3,130.2 1489.8,130 1491.3,129.8 1492.8,129.6 1494.3,129.4 1495.8,129.2 1497.3,129.1 1498.8,129 1500.3,128.9 1501.8,128.8 1503.3,128.7 1504.8,128.6 1506.3,128.5 1507.8,128.5 1509.3,128.4 1510.8,128.3 1512.3,128.2 1513.8,128.1 1515.3,128 1516.8,128 1518.3,127.9 1519.8,127.9 1521.3,127.8 1522.8,127.8 1524.3,127.7 1525.8,127.7 1527.3,127.7 1528.8,127.7 1530.3,127.6 1531.8,127.6 1533.3,127.6 1534.8,127.5 1536.3,127.5 1537.8,127.4 1539.3,127.3 1540.8,127.2 1542.3,127 1543.8,126.9 1545.3,126.7 1546.8,126.4 1548.3,126.2 1549.8,125.9 1551.3,125.6" fill="none" stroke="none" marker-start="url(#m5)" marker-mid="url(#m5)" marker-end="url(#m5)"/>
<polyline points="1263.3,175.2 1264.8,175.2 1266.3,175.2 1267.8,175.2 1269.3,175.1 1270.8,175.1 1272.3,175.1 1273.8,175.1 1275.3,175.1 1276.8,175.1 1278.3,175.1 1279.8,175 1281.3,175 1282.8,175 1284.3,175 1285.8,175 1287.3,175 1288.8,175 1290.3,174.9 1291.8,174.9 1293.3,174.9 1294.8,174.9 1296.3,174.9 1297.8,174.9 1299.3,174.9 1300.8,174.8 1302.3,174.8 1303.8,174.8 1305.3,174.8 1306.8,174.8 1308.3,174.8 1309.8,174.8 1311.3,174.7 1312.8,174.7 1314.3,174.7 1315.8,174.7 1317.3,174.7 1318.8,174.6 1320.3,174.6 1321.8,174.6 1323.3,174.6 1324.8,174.6 1326.3,174.5 1327.8,174.5 1329.3,174.5 1330.8,174.5 1332.3,174.5 1333.8,174.4 1335.3,174.4 1336.8,174.4 1338.3,174.3 1339.8,174.3 1341.3,174.3 1342.8,174.3 1344.3,174.2 1345.8,174.2 1347.3,174.2 1348.8,174.1 1350.3,174.1 1351.8,174.1 1353.3,174 1354.8,174 1356.3,173.9 1357.8,173.9 1359.3,173.9 1360.8,173.8 1362.3,173.8 1363.8,173.7 1365.3,173.7 1366.8,173.7 1368.3,173.6 1369.8,173.6 1371.3,173.5 1372.8,173.5 1374.3,173.4 1375.8,173.4 1377.3,173.3 1378.8,173.2 1380.3,173.2 1381.8,173.1 1383.3,173 1384.8,173 1386.3,172.9 1387.8,172.8 1389.3,172.7 1390.8,172.7 1392.3,172.6 1393.8,172.5 1395.3,172.4 1396.8,172.3 1398.3,172.2 1399.8,172 1401.3,171.9 1402.8,171.7 1404.3,171.6 1405.8,171.4 1407.3,171.2 1408.8,171 1410.3,170.8 1411.8,170.6 1413.3,170.3 1414.8,170.1 1416.3,169.8 1417.8,169.5 1419.3,169.3 1420.8,169 1422.3,168.8 1423.8,168.5 1425.3,168.3 1426.8,168 1428.3,167.8 1429.8,167.5 1431.3,167.2 1432.8,167 1434.3,166.7 1435.8,166.4 1437.3,166.1 1438.8,165.8 1440.3,165.5 1441.8,165.2 1443.3,164.8 1444.8,164.5 1446.3,164.1 1447.8,163.7 1449.3,163.3 1450.8,162.9 1452.3,162.5 1453.8,162.1 1455.3,161.7 1456.8,161.2 1458.3,160.8 1459.8,160.3 1461.3,159.8 1462.8,159.4 1464.3,158.9 1465.8,158.4 1467.3,157.8 1468.8,157.3 1470.3,156.8 1471.8,156.2 1473.3,155.6 1474.8,155 1476.3,154.4 1477.8,153.7 1479.3,152.9 1480.8,152.1 1482.3,151.3 1483.8,150.4 1485.3,149.4 1486.8,148.4 1488.3,147.4 1489.8,146.4 1491.3,145.4 1492.8,144.5 1494.3,143.5 1495.8,142.6 1497.3,141.7 1498.8,140.7 1500.3,139.7 1501.8,138.7 1503.3,137.7 1504.8,136.8 1506.3,135.9 1507.8,135 1509.3,134.2 1510.8,133.4 1512.3,132.7 1513.8,132 1515.3,131.4 1516.8,130.8 1518.3,130.2 1519.8,129.7 1521.3,129.2 1522.8,128.8 1524.3,128.4 1525.8,128 1527.3,127.8 1528.8,127.5 1530.3,127.3 1531.8,127.2 1533.3,127.1 1534.8,127 1536.3,127.1 1537.8,127.1 1539.3,127.1 1540.8,127.2 1542.3,127.2 1543.8,127.3 1545.3,127.4 1546.8,127.5 1548.3,127.6 1549.8,127.7 1551.3,127.8" fill="none" stroke="none" marker-start="url(#m5)" marker-mid="url(#m5)" marker-end="url(#m5)"/>
<polyline points="1262.6,326.5 1290,326.5 1310,326 1310.5,321 1328,321 1328.5,326 1331,326 1333,317.9 1336.6,312.5 1339,314.5 1343,311 1347.4,308.9 1351,307.1 1358.2,294.5 1367.2,276.4 1376.3,254.8 1383.5,234.9 1390.7,216.9 1397.9,202.5 1403,190.7 1405.1,206.1 1406.9,251.2 1409.6,296.3 1411.4,326.9" fill="none" stroke="#000" stroke-width="2.3" stroke-linejoin="round" stroke-linecap="round"/>
<polyline points="1262.6,312.5 1263.5,314.5 1264.4,317.3 1265.3,321.5 1266.2,321.3 1267.1,323.8 1268,326.5 1270.3,324.3 1272.6,325.9 1274.9,326.5 1277.1,326.5 1279.4,323.5 1281.7,324.5 1284,323.4 1286.3,326.5 1288.6,326.4 1290.9,322.9 1293.1,326.5 1295.4,326.5 1297.7,325.9 1300,325.6 1302.2,323.1 1304.4,322.3 1306.7,324.8 1308.9,322.3 1311.1,322.8 1313.3,323 1315.6,321.8 1317.8,323.9 1320,323.7 1322.2,325.7 1324.4,323.9 1326.7,324.4 1328.9,323.6 1331.1,324.3 1333.3,323.1 1335.6,322.1 1337.8,325.7 1340,325.6 1342.3,324.4 1344.5,323.3 1346.8,320.8 1349.1,319.9 1351.4,319.8 1353.7,318.3 1355.9,321.5 1358.2,319.2 1360.5,320.8 1362.7,317.8 1365,320.1 1367.2,318.8 1369.5,313.7 1371.8,314.1 1374,317.1 1376.3,314.1 1378.5,315.9 1380.8,312 1383,309.4 1385.3,311.4 1387.5,311.2 1389.8,307.7 1392,305.9 1394.3,306.2 1396.5,308.6 1398.8,306.6 1401,302.4 1403.3,302.2 1405.5,300.5 1407.8,299.4 1410,302.3 1412.3,298.2 1414.3,299.2 1416.3,297.6 1418.3,295.3 1420.3,297.1 1422.4,293 1424.4,294.6 1426.4,290.9 1428.4,291.5 1430.4,289.4 1432.5,288.7 1434.5,291.3 1436.6,289.3 1438.6,285.7 1440.7,287.7 1442.7,283.1 1444.8,283.1 1447,284 1449.1,281.5 1451.3,277.2 1453.4,280.4 1455.6,274.9 1457.8,275.9 1460,279.3 1462.1,277.7 1464.3,278.2 1466.5,277.8 1468.3,279.7 1470.1,284 1471.9,284.1 1473.7,287.7 1476.1,287.8 1478.5,289.4 1480.9,293.3 1481.4,293.1 1481.9,295.9 1482.4,299.7 1483,298.5 1483.5,300.7 1484,306.9 1484.5,308.8 1485.4,307.9 1486.3,309.7 1487.2,314.6 1488.1,317.8 1489,316 1489.9,322 1491.7,323 1493.5,322.9 1495.3,323.3 1497.1,323 1499.1,321.3 1501,324.8 1503,319.6 1505.1,320.4 1507.2,316.4 1509.4,317.7 1511.5,314.8 1513.8,312.3 1516,310.8 1518.3,312.7 1520.6,308.5 1523.3,310.9 1526,314.3 1526.8,318.2 1527.6,319.4 1528.4,320.1 1529.2,325.8 1530,326" fill="none" stroke="#ed1c24" stroke-width="2.3" stroke-linejoin="round" stroke-linecap="round"/>
<polyline points="1300,326 1302.2,325.9 1304.4,326.5 1306.7,326.5 1308.9,324.2 1311.1,323.5 1313.3,325.2 1315.6,324.7 1317.8,326.5 1320,326.5 1322.2,326.2 1324.4,326 1326.7,326.4 1328.9,323.9 1331.1,325.3 1333.3,324 1335.6,326.5 1337.8,323.4 1340,326.5 1342.3,323.4 1344.5,326.3 1346.8,324.5 1349.1,324.8 1351.3,326.5 1353.6,322.8 1355.9,323 1358.2,326.5 1360.4,325 1362.7,322.9 1365,326.5 1367.2,326.5 1369.5,322.8 1371.8,324.3 1374,322.8 1376.3,323.6 1378.5,324.4 1380.8,321.5 1383,323.3 1385.3,319.5 1387.5,319.4 1389.8,321.8 1392,319.1 1394.3,318.5 1396.5,318.7 1398.8,317.4 1401,316.2 1403.3,313.8 1405.6,316.7 1407.8,317.4 1410.1,317 1412.3,315.1 1414.6,313.2 1416.9,312.7 1419.1,313.9 1421.4,313.3 1423.7,309.7 1425.9,309.4 1428.2,309.1 1430.4,309 1432.7,309.5 1434.9,307.1 1437.2,303.9 1439.4,306.8 1441.4,303.6 1443.4,302.6 1445.4,299.8 1447.4,299.4 1449.4,297.8 1451.4,298.2 1453.4,293.6 1455.4,294.3 1457.4,291.2 1459.7,292.7 1461.9,288.7 1464.2,288.9 1466.5,288.3 1468.7,288.8 1471,285.1 1473.2,286.1 1475.5,284 1477.8,283 1480,282.6 1482.2,283.6 1484.5,279.9 1486.9,282.5 1489.3,279 1491.7,282.9 1494.1,280.5 1496.5,280 1498.9,283 1500.7,285.6 1502.5,283 1504.3,286.1 1506.1,290.3 1507.9,289.7 1509.7,290.7 1511.5,291 1513.3,292.6 1515.1,296.9 1516.2,300.8 1517.3,303 1518.4,302.8 1519.5,302.7 1520.6,306.2 1521.6,310.7 1522.6,313.1 1523.6,314.4 1524.6,314.6 1525.6,318.2 1526.6,320.2 1527.6,323.1 1528.6,323.6 1529.6,326.9" fill="none" stroke="#ed1c24" stroke-width="2.3" stroke-linejoin="round" stroke-linecap="round"/>
<polyline points="1535,326.5 1537,290 1539,326.5 1541,300 1543,326 1545,284 1547,326.5" fill="none" stroke="#ed1c24" stroke-width="2.3" stroke-linejoin="round" stroke-linecap="round"/>
<polyline points="1748.2,164.1 1749.8,162.9 1751.4,161.8 1753,160.6 1754.6,159.5 1756.2,158.3 1757.8,157.1 1759.4,155.9 1761,154.6 1762.6,153.2 1764.2,151.8 1765.8,150.2 1767.4,148.5 1769,146.7 1770.6,144.7 1772.2,142.7 1773.8,140.6 1775.4,138.5 1777,136.3 1778.6,134.1 1780.2,131.9 1781.8,129.7 1783.4,127.5 1785,125.3 1786.6,122.1 1788.2,118.7 1789.8,117.7 1791.4,117.2 1793,116.9 1794.6,116.8 1796.2,116.7 1797.8,116.7 1799.4,116.8 1801,116.8 1802.6,116.9 1804.2,117.1 1805.8,117.2 1807.4,117.3 1809,117.4 1810.6,117.5 1812.2,117.7 1813.8,117.8 1815.4,117.9 1817,118 1818.6,118 1820.2,118.1 1821.8,118.1 1823.4,118.2 1825,118.3 1826.6,118.3 1828.2,118.4 1829.8,118.4 1831.4,118.5 1833,118.5 1834.6,118.6 1836.2,118.6 1837.8,118.7 1839.4,118.7 1841,118.8 1842.6,118.8 1844.2,118.9 1845.8,118.9 1847.4,119 1849,119 1850.6,119.1 1852.2,119.1 1853.8,119.2 1855.4,119.2 1857,119.3 1858.6,119.4 1860.2,119.4 1861.8,119.5 1863.4,119.5 1865,119.6 1866.6,119.7 1868.2,119.7 1869.8,119.8 1871.4,119.9 1873,119.9 1874.6,120 1876.2,120.1 1877.8,120.2 1879.4,120.2 1881,120.3 1882.6,120.4 1884.2,120.5 1885.8,120.6 1887.4,120.7 1889,120.8 1890.6,120.9 1892.2,121 1893.8,121.1 1895.4,121.2 1897,121.3 1898.6,121.4 1900.2,121.5 1901.8,121.6 1903.4,121.7 1905,121.8 1906.6,121.9 1908.2,122 1909.8,122.1 1911.4,122.2 1913,122.3 1914.6,122.4 1916.2,122.5 1917.8,122.6 1919.4,122.7 1921,122.8 1922.6,122.9 1924.2,122.9 1925.8,123 1927.4,123.1 1929,123.1 1930.6,123.2 1932.2,123.3 1933.8,123.3 1935.4,123.4 1937,123.4 1938.6,123.5 1940.2,123.5 1941.8,123.6" fill="none" stroke="none" marker-start="url(#m4)" marker-mid="url(#m4)" marker-end="url(#m4)"/>
<polyline points="1654.1,174.9 1655.6,174.8 1657.1,174.8 1658.6,174.7 1660.1,174.7 1661.6,174.6 1663.1,174.6 1664.6,174.5 1666.1,174.5 1667.6,174.5 1669.1,174.4 1670.6,174.4 1672.1,174.3 1673.6,174.3 1675.1,174.2 1676.6,174.2 1678.1,174.1 1679.6,174.1 1681.1,174 1682.6,174 1684.1,173.9 1685.6,173.9 1687.1,173.8 1688.6,173.7 1690.1,173.7 1691.6,173.6 1693.1,173.5 1694.6,173.5 1696.1,173.4 1697.6,173.3 1699.1,173.2 1700.6,173.2 1702.1,173.1 1703.6,173 1705.1,172.9 1706.6,172.8 1708.1,172.6 1709.6,172.5 1711.1,172.4 1712.6,172.2 1714.1,172 1715.6,171.8 1717.1,171.6 1718.6,171.4 1720.1,171.1 1721.6,170.9 1723.1,170.6 1724.6,170.2 1726.1,169.9 1727.6,169.5 1729.1,169.1 1730.6,168.6 1732.1,168.1 1733.6,167.5 1735.1,166.9 1736.6,166.3 1738.1,165.6 1739.6,165 1741.1,164.3 1742.6,163.5 1744.1,162.7 1745.6,161.8 1747.1,160.9 1748.6,159.8 1750.1,158.7 1751.6,157.5 1753.1,156.3 1754.6,155 1756.1,153.7 1757.6,152.5 1759.1,151.1 1760.6,149.7 1762.1,148.3 1763.6,146.7 1765.1,145.2 1766.6,143.6 1768.1,142 1769.6,140.4 1771.1,138.8 1772.6,137.3 1774.1,135.9 1775.6,134.6 1777.1,133.3 1778.6,132.1 1780.1,131 1781.6,129.9 1783.1,128.9 1784.6,128 1786.1,127.1 1787.6,126.4 1789.1,125.7 1790.6,125.2 1792.1,124.7 1793.6,124.5 1795.1,124.7 1796.6,124.9 1798.1,125 1799.6,125.1 1801.1,125.2 1802.6,125.3 1804.1,125.4 1805.6,125.4 1807.1,125.5 1808.6,125.5 1810.1,125.6 1811.6,125.7 1813.1,125.7 1814.6,125.8 1816.1,125.9 1817.6,126 1819.1,126 1820.6,126.1 1822.1,126.2 1823.6,126.2 1825.1,126.3 1826.6,126.4 1828.1,126.5 1829.6,126.5 1831.1,126.6 1832.6,126.7 1834.1,126.8 1835.6,126.8 1837.1,126.9 1838.6,127 1840.1,127.1 1841.6,127.1 1843.1,127.2 1844.6,127.3 1846.1,127.4 1847.6,127.5 1849.1,127.6 1850.6,127.6 1852.1,127.7 1853.6,127.8 1855.1,127.9 1856.6,128 1858.1,128.1 1859.6,128.1 1861.1,128.2 1862.6,128.3 1864.1,128.4 1865.6,128.5 1867.1,128.6 1868.6,128.7 1870.1,128.8 1871.6,128.9 1873.1,129 1874.6,129.1 1876.1,129.2 1877.6,129.3 1879.1,129.4 1880.6,129.5 1882.1,129.6 1883.6,129.7 1885.1,129.8 1886.6,129.9 1888.1,130 1889.6,130.1 1891.1,130.2 1892.6,130.3 1894.1,130.4 1895.6,130.5 1897.1,130.6 1898.6,130.7 1900.1,130.8 1901.6,130.9 1903.1,131 1904.6,131.1 1906.1,131.2 1907.6,131.3 1909.1,131.4 1910.6,131.6 1912.1,131.7 1913.6,131.8 1915.1,131.9 1916.6,132 1918.1,132.1 1919.6,132.2 1921.1,132.4 1922.6,132.5 1924.1,132.6 1925.6,132.7 1927.1,132.9 1928.6,133 1930.1,133.1 1931.6,133.2 1933.1,133.4 1934.6,133.5 1936.1,133.6 1937.6,133.8 1939.1,133.9 1940.6,134 1942.1,134.2 1943.6,134.3" fill="none" stroke="none" marker-start="url(#m5)" marker-mid="url(#m5)" marker-end="url(#m5)"/>
<polyline points="1654.1,175.8 1655.6,175.8 1657.1,175.7 1658.6,175.7 1660.1,175.6 1661.6,175.6 1663.1,175.6 1664.6,175.5 1666.1,175.5 1667.6,175.4 1669.1,175.4 1670.6,175.4 1672.1,175.3 1673.6,175.3 1675.1,175.2 1676.6,175.2 1678.1,175.2 1679.6,175.1 1681.1,175.1 1682.6,175 1684.1,175 1685.6,175 1687.1,174.9 1688.6,174.9 1690.1,174.8 1691.6,174.8 1693.1,174.7 1694.6,174.7 1696.1,174.6 1697.6,174.6 1699.1,174.5 1700.6,174.4 1702.1,174.4 1703.6,174.3 1705.1,174.2 1706.6,174.2 1708.1,174.1 1709.6,174 1711.1,173.9 1712.6,173.8 1714.1,173.7 1715.6,173.6 1717.1,173.5 1718.6,173.3 1720.1,173.2 1721.6,173 1723.1,172.9 1724.6,172.7 1726.1,172.5 1727.6,172.3 1729.1,172.1 1730.6,171.8 1732.1,171.5 1733.6,171.2 1735.1,170.9 1736.6,170.4 1738.1,170 1739.6,169.6 1741.1,169.1 1742.6,168.5 1744.1,167.9 1745.6,167.2 1747.1,166.4 1748.6,165.6 1750.1,164.7 1751.6,163.7 1753.1,162.7 1754.6,161.7 1756.1,160.7 1757.6,159.6 1759.1,158.6 1760.6,157.5 1762.1,156.3 1763.6,155.1 1765.1,153.9 1766.6,152.7 1768.1,151.4 1769.6,150.2 1771.1,148.9 1772.6,147.7 1774.1,146.5 1775.6,145.3 1777.1,144.2 1778.6,143.1 1780.1,141.9 1781.6,140.8 1783.1,139.7 1784.6,138.6 1786.1,137.5 1787.6,136.4 1789.1,135.4 1790.6,134.4 1792.1,133.5 1793.6,132.7 1795.1,131.8 1796.6,130.9 1798.1,129.9 1799.6,129.2 1801.1,128.8 1802.6,128.5 1804.1,128.3 1805.6,128.2 1807.1,128.1 1808.6,128 1810.1,127.9 1811.6,127.9 1813.1,127.9 1814.6,127.9 1816.1,127.9 1817.6,127.9 1819.1,127.9 1820.6,127.9 1822.1,127.9 1823.6,128 1825.1,128 1826.6,128 1828.1,128.1 1829.6,128.1 1831.1,128.2 1832.6,128.2 1834.1,128.3 1835.6,128.3 1837.1,128.4 1838.6,128.5 1840.1,128.5 1841.6,128.6 1843.1,128.7 1844.6,128.7 1846.1,128.8 1847.6,128.9 1849.1,128.9 1850.6,129 1852.1,129.1 1853.6,129.1 1855.1,129.2 1856.6,129.3 1858.1,129.3 1859.6,129.4 1861.1,129.5 1862.6,129.6 1864.1,129.7 1865.6,129.7 1867.1,129.8 1868.6,129.9 1870.1,130 1871.6,130.1 1873.1,130.2 1874.6,130.3 1876.1,130.4 1877.6,130.5 1879.1,130.5 1880.6,130.6 1882.1,130.7 1883.6,130.8 1885.1,130.9 1886.6,131 1888.1,131.1 1889.6,131.2 1891.1,131.3 1892.6,131.5 1894.1,131.6 1895.6,131.7 1897.1,131.8 1898.6,131.9 1900.1,132 1901.6,132.1 1903.1,132.2 1904.6,132.3 1906.1,132.4 1907.6,132.5 1909.1,132.6 1910.6,132.8 1912.1,132.9 1913.6,133 1915.1,133.1 1916.6,133.2 1918.1,133.4 1919.6,133.5 1921.1,133.6 1922.6,133.7 1924.1,133.9 1925.6,134 1927.1,134.2 1928.6,134.3 1930.1,134.5 1931.6,134.6 1933.1,134.7 1934.6,134.9 1936.1,135.1 1937.6,135.2 1939.1,135.4 1940.6,135.5 1942.1,135.7 1943.6,135.8" fill="none" stroke="none" marker-start="url(#m5)" marker-mid="url(#m5)" marker-end="url(#m5)"/>
<polyline points="1653,326.5 1655,325.7 1657.1,326.9 1659.1,326.8 1661.2,326.4 1663.2,325.7 1665.3,327.1 1667.3,327.1 1669.3,326.4 1671.4,326.3 1673.4,325.6 1675.5,325.1 1677.5,325.9 1679.6,326.4 1681.6,325.2 1683.7,326.9 1685.7,325.5 1687.7,325.5 1689.8,325 1691.8,327.3 1693.9,326.6 1695.9,326.9 1698,326.3 1700,324.9 1702,324.8 1704,324.5 1706,322.8 1708,324.1 1710,321 1712.1,318.9 1713.9,319.1 1715.8,316.1 1717.6,316.7 1719.4,314.2 1721.6,313 1723.8,311.1 1726,310 1727.3,307.6 1728.6,305.5 1729.9,305.8 1731.2,302.6 1732.5,302.3 1733.8,299.2 1734.7,299.2 1735.6,297.2 1736.5,295.1 1737.4,293.3 1738.3,291 1739.2,289.6 1740.1,286.3 1741,285.3 1742.1,284.4 1743.2,281.1 1744.2,281 1745.3,279.1 1746.4,276.2 1747.5,274.3 1748.6,272.7 1749.6,270.7 1750.7,270.4 1751.8,267.1 1752.7,264.2 1753.6,262.4 1754.5,261.8 1755.4,260.5 1756.3,257.3 1757.2,255.2 1758.1,253.3 1759,251.8 1760.5,248.7 1761.9,247.8 1763.4,245.9 1764.8,244.2 1766.3,241.3 1767.2,239.3 1768.1,237.7 1769,237 1769.9,233.6 1770.8,232.2 1771.7,229.5 1772.6,227 1773.5,224.9 1774.7,224.9 1775.9,223 1777.1,220.2 1778.3,219.1 1779.5,217.3 1780.7,216.1 1782.8,214.7 1784.9,211.9 1787,210.6 1789.7,238.5 1793.3,287.2 1796.9,326.9" fill="none" stroke="#000" stroke-width="2.3" stroke-linejoin="round" stroke-linecap="round"/>
<polyline points="1672,326.5 1674,328 1676,324.9 1678,324.3 1680,327.6 1682,324.5 1684,324.1 1686,325.9 1688,324.6 1690,326.4 1691.9,323.3 1693.7,325.1 1695.6,322.1 1697.5,322.3 1699.4,322.8 1701.2,321.1 1703.1,321.2 1704.9,319.5 1706.7,316.3 1708.5,318.4 1710.3,316.4 1712.2,314.5 1714,313.2 1715.8,314.7 1717.6,312.8 1719.1,312.6 1720.6,310.5 1722.1,309.7 1723.6,306.7 1725.1,305.7 1726.6,303.9 1727.8,300.8 1729,301.5 1730.2,297.4 1731.4,297.3 1732.6,296.1 1733.8,293.2 1735,289.5 1736.2,290.2 1737.4,287.8 1738.3,284.3 1739.2,282 1740.1,281.9 1741,278.3 1741.9,279.7 1742.8,276.4 1743.7,274.7 1744.6,272.5 1745.4,271.4 1746.2,270.4 1747.1,266.2 1747.9,264.5 1748.7,263.3 1749.5,260.3 1750.3,259.4 1751.1,257.2 1752,254.9 1752.8,253.8 1753.6,251.2 1764.5,227.7 1769.9,231.3 1777.1,249.4 1784.3,274.6 1789.7,296.3 1795.1,326.9" fill="none" stroke="#ed1c24" stroke-width="2.3" stroke-linejoin="round" stroke-linecap="round"/>
<polyline points="1706.7,321.5 1708.9,323 1711,323.1 1713.2,322.9 1715.3,320 1717.5,321.8 1719.7,321.2 1721.8,321.6 1724,320.2 1725.5,318.6 1727.1,317.7 1728.7,315.1 1730.2,314.1 1732.2,311.9 1734.1,311.5 1736.1,313.1 1738,311.4 1740,311 1741.4,310 1742.7,306.8 1744.1,303.9 1745.5,304.6 1746.8,302.1 1748.2,300.5 1749.1,298.5 1750,298 1750.9,294 1751.8,293.6 1752.7,290.4 1753.6,289.3 1754.5,287.8 1755.4,284.8 1756.3,282.1 1757.2,281.7 1758,280.6 1758.9,278.2 1759.7,275.7 1760.5,274.5 1761.3,270.8 1762.2,268.9 1763,267.4 1763.8,267.2 1764.6,263 1765.5,260.8 1766.3,258.8 1767.1,256.5 1767.9,255.4 1768.7,254.4 1769.5,253.3 1770.3,249.5 1771.1,247.7 1771.9,245.4 1772.7,243.4 1773.5,242.1 1779.8,235.8 1784.3,238.5 1793.3,260.2 1802.3,285.4 1807.7,307.1 1811.4,326.9" fill="none" stroke="#ed1c24" stroke-width="2.3" stroke-linejoin="round" stroke-linecap="round"/>
<polyline points="1829,326.5 1834,322 1840,326.5" fill="none" stroke="#ed1c24" stroke-width="2.3" stroke-linejoin="round" stroke-linecap="round"/>
<polyline points="1861,326.5 1865,322 1869,326.5" fill="none" stroke="#ed1c24" stroke-width="2.3" stroke-linejoin="round" stroke-linecap="round"/>
<polyline points="1929.5,326.5 1933,309 1936.5,326.5" fill="none" stroke="#ed1c24" stroke-width="2.3" stroke-linejoin="round" stroke-linecap="round"/>
<rect x="3" y="812.9" width="127.5" height="68.5" fill="#f4bcd5"/>
<rect x="145.5" y="812.9" width="127.4" height="68.5" fill="#4a9ec3"/>
<path d="M1.5,796 V882.6 H132 V796" fill="none" stroke="#231f20" stroke-width="3"/>
<path d="M144.2,796 V882.6 H274.2 V796" fill="none" stroke="#231f20" stroke-width="3"/>
<clipPath id="cf1"><path d="M56.7,735.5 L31.3,828 Q29,838 31,846 Q35,868 52,868 L80,868 Q98,868 102.5,846 Q104.5,838 102.2,828 L77.6,735.5 Z"/></clipPath>
<g clip-path="url(#cf1)"><rect x="20" y="812.9" width="100" height="24" fill="#fcdde9"/><rect x="20" y="836.9" width="100" height="40" fill="#d7df23"/></g>
<path d="M56.7,735.5 L31.3,828 Q29,838 31,846 Q35,868 52,868 L80,868 Q98,868 102.5,846 Q104.5,838 102.2,828 L77.6,735.5" fill="none" stroke="#8c8c8c" stroke-width="2.7"/>
<clipPath id="cb1"><rect x="0" y="812.9" width="140" height="70"/></clipPath>
<path d="M56.7,735.5 L31.3,828 Q29,838 31,846 Q35,868 52,868 L80,868 Q98,868 102.5,846 Q104.5,838 102.2,828 L77.6,735.5" fill="none" stroke="#8a6d7c" stroke-width="2.7" clip-path="url(#cb1)"/>
<clipPath id="cf2"><path d="M198.4,735.5 L173.2,828 Q171,838 173,846 Q177,868 194,868 L224,868 Q242,868 246.5,846 Q248.5,838 246.2,828 L219.8,735.5 Z"/></clipPath>
<g clip-path="url(#cf2)"><rect x="160" y="812.9" width="100" height="60" fill="#a4d0e0"/></g>
<path d="M198.4,735.5 L173.2,828 Q171,838 173,846 Q177,868 194,868 L224,868 Q242,868 246.5,846 Q248.5,838 246.2,828 L219.8,735.5" fill="none" stroke="#8c8c8c" stroke-width="2.7"/>
<clipPath id="cb2"><rect x="140" y="812.9" width="140" height="70"/></clipPath>
<path d="M198.4,735.5 L173.2,828 Q171,838 173,846 Q177,868 194,868 L224,868 Q242,868 246.5,846 Q248.5,838 246.2,828 L219.8,735.5" fill="none" stroke="#2f5569" stroke-width="2.7" clip-path="url(#cb2)"/>
<path d="M67.9,735.5 C67.9,702 98,685.4 136.7,685.4 C176,685.4 207.2,706 207.2,733.5" fill="none" stroke="#000" stroke-width="1.9"/>
<path d="M198.6,726.5 L207.2,734.3 L214.4,725.4" fill="none" stroke="#000" stroke-width="1.9"/>
<path d="M230.4,735.5 C230.4,703 256,685.2 287.3,685.2 C320,685.2 346.2,707 346.2,733.8" fill="none" stroke="#000" stroke-width="1.9"/>
<path d="M337.8,725.7 L346.2,734.4 L353.5,725.7" fill="none" stroke="#000" stroke-width="1.9"/>
<text transform="translate(96.3,750.5) scale(1,1.04)" font-size="30.3">37 &#176;C</text>
<text transform="translate(247,750.8) scale(1,1.04)" font-size="30.3">0 &#176;C</text>
<text transform="translate(247.6,779.8) scale(1,1.04)" font-size="30.3" textLength="74.5" lengthAdjust="spacingAndGlyphs">10 min</text>
<text transform="translate(336.4,790) scale(1,1.04)" font-size="30.3">26 &#176;C</text>
<rect x="302.4" y="801.4" width="96.4" height="65.9" fill="none" stroke="#333" stroke-width="1.3"/>
<circle cx="319.5" cy="819.3" r="13.6" fill="none" stroke="#222" stroke-width="1.4"/>
<circle cx="350.4" cy="819.3" r="13.6" fill="none" stroke="#222" stroke-width="1.4"/>
<circle cx="381.5" cy="819.3" r="13.6" fill="none" stroke="#222" stroke-width="1.4"/>
<circle cx="319.5" cy="848.8" r="13.6" fill="none" stroke="#222" stroke-width="1.4"/>
<circle cx="350.4" cy="848.8" r="13.6" fill="none" stroke="#222" stroke-width="1.4"/>
<circle cx="381.5" cy="848.8" r="13.6" fill="none" stroke="#222" stroke-width="1.4"/>
<text transform="translate(633.7,597) scale(1,1.04)" font-size="33" text-anchor="middle">succinate (26 <tspan font-size="23" dy="-12">o</tspan><tspan dy="12">C)</tspan></text>
<text transform="translate(633.7,636.2) scale(1,1.04)" font-size="33" text-anchor="middle" fill="#000">WT</text>
<text transform="translate(1024.2,597) scale(1,1.04)" font-size="33" text-anchor="middle">succinate (26 <tspan font-size="23" dy="-12">o</tspan><tspan dy="12">C)</tspan></text>
<text transform="translate(991,636.3) scale(1,1.04)" font-size="33">&#916;<tspan font-style="italic">fabF</tspan></text>
<line x1="488.2" y1="664.5" x2="488.2" y2="898.4" stroke="#000" stroke-width="2.6" stroke-linecap="butt"/>
<line x1="779.4" y1="664.5" x2="779.4" y2="898.4" stroke="#000" stroke-width="2.4" stroke-linecap="butt"/>
<line x1="486.9" y1="897.2" x2="780.6" y2="897.2" stroke="#000" stroke-width="2.4" stroke-linecap="butt"/>
<line x1="561" y1="897.2" x2="561" y2="885.2" stroke="#000" stroke-width="2.3" stroke-linecap="butt"/>
<line x1="633.8" y1="897.2" x2="633.8" y2="885.2" stroke="#000" stroke-width="2.3" stroke-linecap="butt"/>
<line x1="706.6" y1="897.2" x2="706.6" y2="885.2" stroke="#000" stroke-width="2.3" stroke-linecap="butt"/>
<line x1="779.4" y1="786.9" x2="766.9" y2="786.9" stroke="#000" stroke-width="2.3" stroke-linecap="butt"/>
<line x1="779.4" y1="676.6" x2="766.9" y2="676.6" stroke="#000" stroke-width="2.3" stroke-linecap="butt"/>
<text transform="translate(488.2,937) scale(1,1.04)" font-size="33" text-anchor="middle" fill="#000">0</text>
<text transform="translate(561,937) scale(1,1.04)" font-size="33" text-anchor="middle" fill="#000">5</text>
<text transform="translate(633.8,937) scale(1,1.04)" font-size="33" text-anchor="middle" fill="#000">10</text>
<text transform="translate(706.6,937) scale(1,1.04)" font-size="33" text-anchor="middle" fill="#000">15</text>
<text transform="translate(779.4,937) scale(1,1.04)" font-size="33" text-anchor="middle" fill="#000">20</text>
<text transform="translate(792.9,907.2) scale(1,1.04)" font-size="33" text-anchor="start" fill="#000">0.0</text>
<text transform="translate(792.9,796.9) scale(1,1.04)" font-size="33" text-anchor="start" fill="#000">0.2</text>
<text transform="translate(792.9,686.6) scale(1,1.04)" font-size="33" text-anchor="start" fill="#000">0.4</text>
<text transform="translate(634.3,988.7) scale(1,1.04)" font-size="33" text-anchor="middle" fill="#000">time (hr)</text>
<line x1="878.2" y1="664.5" x2="878.2" y2="898.4" stroke="#000" stroke-width="2.6" stroke-linecap="butt"/>
<line x1="1169.4" y1="664.5" x2="1169.4" y2="898.4" stroke="#000" stroke-width="2.4" stroke-linecap="butt"/>
<line x1="876.9" y1="897.2" x2="1170.6" y2="897.2" stroke="#000" stroke-width="2.4" stroke-linecap="butt"/>
<line x1="951" y1="897.2" x2="951" y2="885.2" stroke="#000" stroke-width="2.3" stroke-linecap="butt"/>
<line x1="1023.8" y1="897.2" x2="1023.8" y2="885.2" stroke="#000" stroke-width="2.3" stroke-linecap="butt"/>
<line x1="1096.6" y1="897.2" x2="1096.6" y2="885.2" stroke="#000" stroke-width="2.3" stroke-linecap="butt"/>
<line x1="1169.4" y1="786.9" x2="1156.9" y2="786.9" stroke="#000" stroke-width="2.3" stroke-linecap="butt"/>
<line x1="1169.4" y1="676.6" x2="1156.9" y2="676.6" stroke="#000" stroke-width="2.3" stroke-linecap="butt"/>
<text transform="translate(878.2,937) scale(1,1.04)" font-size="33" text-anchor="middle" fill="#000">0</text>
<text transform="translate(951,937) scale(1,1.04)" font-size="33" text-anchor="middle" fill="#000">5</text>
<text transform="translate(1023.8,937) scale(1,1.04)" font-size="33" text-anchor="middle" fill="#000">10</text>
<text transform="translate(1096.6,937) scale(1,1.04)" font-size="33" text-anchor="middle" fill="#000">15</text>
<text transform="translate(1169.4,937) scale(1,1.04)" font-size="33" text-anchor="middle" fill="#000">20</text>
<text transform="translate(1182.9,907.2) scale(1,1.04)" font-size="33" text-anchor="start" fill="#000">0.0</text>
<text transform="translate(1182.9,796.9) scale(1,1.04)" font-size="33" text-anchor="start" fill="#000">0.2</text>
<text transform="translate(1182.9,686.6) scale(1,1.04)" font-size="33" text-anchor="start" fill="#000">0.4</text>
<text transform="translate(1024.3,988.7) scale(1,1.04)" font-size="33" text-anchor="middle" fill="#000">time (hr)</text>
<text transform="translate(461.5,782) rotate(-90)" font-size="33" text-anchor="middle">ln(OD)</text>
<text transform="translate(1266,784.9) rotate(-90)" font-size="32.4" text-anchor="middle" textLength="234" lengthAdjust="spacingAndGlyphs">growth rate (/hr)</text>
<text transform="translate(654.2,771.5) scale(1,1.04)" font-size="33" text-anchor="start" fill="#000" textLength="97.5" lengthAdjust="spacingAndGlyphs">+tergitol</text>
<text transform="translate(654.2,810.5) scale(1,1.04)" font-size="33" text-anchor="start" fill="#e8383d" textLength="89" lengthAdjust="spacingAndGlyphs">+C16:0</text>
<text transform="translate(654.2,853.7) scale(1,1.04)" font-size="33" text-anchor="start" fill="#3b64b1" textLength="88" lengthAdjust="spacingAndGlyphs">+C18:1</text>
<text transform="translate(1061.8,750.6) scale(1,1.04)" font-size="33" text-anchor="start" fill="#000" textLength="97.5" lengthAdjust="spacingAndGlyphs">+tergitol</text>
<text transform="translate(1061.8,793) scale(1,1.04)" font-size="33" text-anchor="start" fill="#e8383d" textLength="88.5" lengthAdjust="spacingAndGlyphs">+C16:0</text>
<text transform="translate(1061.8,834.2) scale(1,1.04)" font-size="33" text-anchor="start" fill="#3b64b1" textLength="85.5" lengthAdjust="spacingAndGlyphs">+C18:1</text>
<polyline points="489.5,729.8 491,729.6 492.4,729.4 493.9,729.3 495.3,729.1 496.8,728.9 498.3,728.8 499.7,728.6 501.2,728.4 502.6,728.3 504.1,728.1 505.6,727.9 507,727.8 508.5,727.6 509.9,727.4 511.4,727.2 512.9,727 514.3,726.8 515.8,726.6 517.2,726.4 518.7,726.2 520.2,726 521.6,725.8 523.1,725.5 524.5,725.3 526,725 527.5,724.8 528.9,724.5 530.4,724.2 531.8,723.9 533.3,723.6 534.8,723.3 536.2,723 537.7,722.7 539.1,722.4 540.6,722.1 542.1,721.8 543.5,721.5 545,721.2 546.4,720.9 547.9,720.5 549.4,720.2 550.8,719.9 552.3,719.6 553.7,719.2 555.2,718.9 556.7,718.6 558.1,718.3 559.6,718 561,717.7 562.5,717.6 564,717.5 565.4,717.4 566.9,716.9 568.3,716.2 569.8,715.5 571.3,714.7 572.7,713.9 574.2,713.1 575.6,712.3 577.1,711.5 578.6,710.6 580,709.8 581.5,708.9 582.9,708.1 584.4,707.2 585.9,706.4 587.3,705.5 588.8,704.7 590.2,703.9 591.7,703 593.2,702.2 594.6,701.4 596.1,700.6 597.5,699.8 599,698.9 600.5,698.1 601.9,697.3 603.4,696.5 604.8,695.6 606.3,694.8 607.8,693.9 609.2,693 610.7,691.9 612.1,689.6 613.6,686.2 615.1,685.4 616.5,685 618,684.7 619.4,684.5 620.9,684.4 622.4,684.3 623.8,684.2 625.3,684.2 626.7,684.1 628.2,684.1 629.7,684.1 631.1,684.1 632.6,684.1 634,684.1 635.5,684.1 637,684.2 638.4,684.2 639.9,684.2 641.3,684.3 642.8,684.3 644.3,684.4 645.7,684.4 647.2,684.5 648.6,684.5 650.1,684.6 651.6,684.6 653,684.7 654.5,684.8 655.9,684.8 657.4,684.9 658.9,684.9 660.3,685 661.8,685.1 663.2,685.1 664.7,685.2 666.2,685.3 667.6,685.3 669.1,685.4 670.5,685.5 672,685.5 673.5,685.6 674.9,685.6 676.4,685.7 677.8,685.7 679.3,685.8 680.8,685.9 682.2,685.9 683.7,686 685.1,686 686.6,686.1 688.1,686.1 689.5,686.1 691,686.2 692.4,686.2 693.9,686.3 695.4,686.3 696.8,686.4 698.3,686.4 699.7,686.5 701.2,686.5 702.7,686.6 704.1,686.6 705.6,686.7 707,686.7 708.5,686.8 710,686.8 711.4,686.9 712.9,686.9 714.3,687 715.8,687 717.3,687.1 718.7,687.2 720.2,687.2 721.6,687.3 723.1,687.3 724.6,687.4 726,687.4 727.5,687.5 728.9,687.5 730.4,687.6 731.9,687.6 733.3,687.7 734.8,687.7 736.2,687.8 737.7,687.9 739.2,687.9 740.6,688 742.1,688 743.5,688.1 745,688.1 746.5,688.2 747.9,688.2 749.4,688.3 750.8,688.3 752.3,688.4" fill="none" stroke="none" marker-start="url(#m6)" marker-mid="url(#m6)" marker-end="url(#m6)"/>
<polyline points="491,731.6 492.5,731.4 493.9,731.2 495.4,731.1 496.8,730.9 498.3,730.7 499.8,730.6 501.2,730.4 502.7,730.2 504.1,730.1 505.6,729.9 507.1,729.7 508.5,729.6 510,729.4 511.4,729.2 512.9,729 514.4,728.8 515.8,728.6 517.3,728.4 518.7,728.2 520.2,728 521.7,727.8 523.1,727.6 524.6,727.3 526,727.1 527.5,726.8 529,726.6 530.4,726.3 531.9,726 533.3,725.7 534.8,725.4 536.3,725.1 537.7,724.8 539.2,724.5 540.6,724.2 542.1,723.9 543.6,723.6 545,723.3 546.5,723 547.9,722.7 549.4,722.3 550.9,722 552.3,721.7 553.8,721.4 555.2,721 556.7,720.7 558.2,720.4 559.6,720.1 561.1,719.8 562.5,719.5 564,719.4 565.5,719.3 566.9,719.2 568.4,718.7 569.8,718 571.3,717.3 572.8,716.5 574.2,715.7 575.7,714.9 577.1,714.1 578.6,713.3 580.1,712.4 581.5,711.6 583,710.7 584.4,709.9 585.9,709 587.4,708.2 588.8,707.3 590.3,706.5 591.7,705.7 593.2,704.8 594.7,704 596.1,703.2 597.6,702.4 599,701.6 600.5,700.7 602,699.9 603.4,699.1 604.9,698.3 606.3,697.4 607.8,696.6 609.3,695.7 610.7,694.8 612.2,693.7 613.6,691.4 615.1,688 616.6,687.2 618,686.8 619.5,686.5 620.9,686.3 622.4,686.2 623.9,686.1 625.3,686 626.8,686 628.2,685.9 629.7,685.9 631.2,685.9 632.6,685.9 634.1,685.9 635.5,685.9 637,685.9 638.5,686 639.9,686 641.4,686 642.8,686.1 644.3,686.1 645.8,686.2 647.2,686.2 648.7,686.3 650.1,686.3 651.6,686.4 653.1,686.4 654.5,686.5 656,686.6 657.4,686.6 658.9,686.7 660.4,686.7 661.8,686.8 663.3,686.9 664.7,686.9 666.2,687 667.7,687.1 669.1,687.1 670.6,687.2 672,687.3 673.5,687.3 675,687.4 676.4,687.4 677.9,687.5 679.3,687.5 680.8,687.6 682.3,687.7 683.7,687.7 685.2,687.8 686.6,687.8 688.1,687.9 689.6,687.9 691,687.9 692.5,688 693.9,688 695.4,688.1 696.9,688.1 698.3,688.2 699.8,688.2 701.2,688.3 702.7,688.3 704.2,688.4 705.6,688.4 707.1,688.5 708.5,688.5 710,688.6 711.5,688.6 712.9,688.7 714.4,688.7 715.8,688.8 717.3,688.8 718.8,688.9 720.2,689 721.7,689 723.1,689.1 724.6,689.1 726.1,689.2 727.5,689.2 729,689.3 730.4,689.3 731.9,689.4 733.4,689.4 734.8,689.5 736.3,689.5 737.7,689.6 739.2,689.7 740.7,689.7 742.1,689.8 743.6,689.8 745,689.9 746.5,689.9 748,690 749.4,690 750.9,690.1 752.3,690.1 753.8,690.2" fill="none" stroke="none" marker-start="url(#m6)" marker-mid="url(#m6)" marker-end="url(#m6)"/>
<polyline points="489.5,739 491,738.8 492.4,738.6 493.9,738.4 495.3,738.2 496.8,738.1 498.3,737.9 499.7,737.7 501.2,737.5 502.6,737.4 504.1,737.2 505.6,737 507,736.8 508.5,736.6 509.9,736.3 511.4,736.1 512.9,735.9 514.3,735.6 515.8,735.3 517.2,735 518.7,734.7 520.2,734.4 521.6,734.1 523.1,733.7 524.5,733.3 526,732.9 527.5,732.5 528.9,732 530.4,731.5 531.8,731 533.3,730.5 534.8,730 536.2,729.5 537.7,728.9 539.1,728.4 540.6,727.8 542.1,727.3 543.5,726.7 545,726.1 546.4,725.5 547.9,724.9 549.4,724.3 550.8,723.7 552.3,723.1 553.7,722.5 555.2,721.8 556.7,721.2 558.1,720.6 559.6,719.9 561,719.3 562.5,718.7 564,718 565.4,717.3 566.9,716.6 568.3,715.9 569.8,715.2 571.3,714.5 572.7,713.7 574.2,712.9 575.6,712 577.1,711.2 578.6,710.3 580,709.4 581.5,708.4 582.9,707.5 584.4,706.6 585.9,705.6 587.3,704.6 588.8,703.5 590.2,702.5 591.7,701.5 593.2,700.4 594.6,699.3 596.1,698.3 597.5,697.2 599,696.1 600.5,695 601.9,693.9 603.4,692.8 604.8,691.7 606.3,690.6 607.8,689.5 609.2,688.5 610.7,687.3 612.1,685.5 613.6,685.4 615.1,685.5 616.5,685.9 618,686.2 619.4,686.5 620.9,686.6 622.4,686.8 623.8,686.9 625.3,686.9 626.7,687 628.2,687.1 629.7,687.1 631.1,687.1 632.6,687.2 634,687.2 635.5,687.2 637,687.3 638.4,687.3 639.9,687.3 641.3,687.3 642.8,687.4 644.3,687.4 645.7,687.4 647.2,687.4 648.6,687.5 650.1,687.5 651.6,687.5 653,687.5 654.5,687.5 655.9,687.6 657.4,687.6 658.9,687.6 660.3,687.6 661.8,687.6 663.2,687.7 664.7,687.7 666.2,687.7 667.6,687.7 669.1,687.7 670.5,687.8 672,687.8 673.5,687.8 674.9,687.8 676.4,687.8 677.8,687.9 679.3,687.9 680.8,687.9 682.2,687.9 683.7,688 685.1,688 686.6,688 688.1,688.1 689.5,688.1 691,688.1 692.4,688.2 693.9,688.2 695.4,688.2 696.8,688.2 698.3,688.3 699.7,688.3 701.2,688.3 702.7,688.4 704.1,688.4 705.6,688.4 707,688.5 708.5,688.5 710,688.5 711.4,688.6 712.9,688.6 714.3,688.6 715.8,688.7 717.3,688.7 718.7,688.7 720.2,688.8 721.6,688.8 723.1,688.8 724.6,688.9 726,688.9 727.5,688.9 728.9,689 730.4,689 731.9,689 733.3,689.1 734.8,689.1 736.2,689.1 737.7,689.2 739.2,689.2 740.6,689.2 742.1,689.3 743.5,689.3 745,689.3 746.5,689.4 747.9,689.4 749.4,689.4 750.8,689.5 752.3,689.5" fill="none" stroke="none" marker-start="url(#m7)" marker-mid="url(#m7)" marker-end="url(#m7)"/>
<polyline points="489.5,739.4 491,739.2 492.4,739 493.9,738.9 495.3,738.7 496.8,738.5 498.3,738.4 499.7,738.2 501.2,738.1 502.6,737.9 504.1,737.7 505.6,737.5 507,737.3 508.5,737.1 509.9,736.9 511.4,736.7 512.9,736.5 514.3,736.2 515.8,736 517.2,735.7 518.7,735.4 520.2,735.1 521.6,734.8 523.1,734.4 524.5,734 526,733.6 527.5,733.2 528.9,732.7 530.4,732.2 531.8,731.8 533.3,731.3 534.8,730.8 536.2,730.2 537.7,729.7 539.1,729.2 540.6,728.6 542.1,728 543.5,727.5 545,726.9 546.4,726.3 547.9,725.7 549.4,725.1 550.8,724.5 552.3,723.9 553.7,723.3 555.2,722.6 556.7,722 558.1,721.4 559.6,720.7 561,720.1 562.5,719.5 564,718.8 565.4,718.1 566.9,717.4 568.3,716.7 569.8,716 571.3,715.3 572.7,714.5 574.2,713.7 575.6,712.8 577.1,712 578.6,711.1 580,710.2 581.5,709.2 582.9,708.3 584.4,707.4 585.9,706.4 587.3,705.4 588.8,704.3 590.2,703.3 591.7,702.3 593.2,701.2 594.6,700.1 596.1,699.1 597.5,698 599,696.9 600.5,695.8 601.9,694.7 603.4,693.6 604.8,692.5 606.3,691.4 607.8,690.3 609.2,689.2 610.7,688 612.1,686.1 613.6,685.9 615.1,686 616.5,686.4 618,686.7 619.4,686.9 620.9,687.1 622.4,687.2 623.8,687.3 625.3,687.3 626.7,687.4 628.2,687.5 629.7,687.5 631.1,687.5 632.6,687.6 634,687.6 635.5,687.6 637,687.7 638.4,687.7 639.9,687.7 641.3,687.7 642.8,687.8 644.3,687.8 645.7,687.8 647.2,687.8 648.6,687.9 650.1,687.9 651.6,687.9 653,687.9 654.5,687.9 655.9,688 657.4,688 658.9,688 660.3,688 661.8,688 663.2,688.1 664.7,688.1 666.2,688.1 667.6,688.1 669.1,688.1 670.5,688.2 672,688.2 673.5,688.2 674.9,688.2 676.4,688.2 677.8,688.3 679.3,688.3 680.8,688.3 682.2,688.3 683.7,688.4 685.1,688.4 686.6,688.4 688.1,688.5 689.5,688.5 691,688.5 692.4,688.5 693.9,688.6 695.4,688.6 696.8,688.6 698.3,688.7 699.7,688.7 701.2,688.7 702.7,688.7 704.1,688.8 705.6,688.8 707,688.8 708.5,688.9 710,688.9 711.4,688.9 712.9,689 714.3,689 715.8,689 717.3,689.1 718.7,689.1 720.2,689.1 721.6,689.1 723.1,689.2 724.6,689.2 726,689.2 727.5,689.3 728.9,689.3 730.4,689.3 731.9,689.4 733.3,689.4 734.8,689.4 736.2,689.5 737.7,689.5 739.2,689.5 740.6,689.5 742.1,689.6 743.5,689.6 745,689.6 746.5,689.7 747.9,689.7 749.4,689.7 750.8,689.8 752.3,689.8" fill="none" stroke="none" marker-start="url(#m8)" marker-mid="url(#m8)" marker-end="url(#m8)"/>
<polyline points="490.3,740.6 491.8,740.4 493.2,740.2 494.7,740.1 496.1,739.9 497.6,739.7 499.1,739.6 500.5,739.4 502,739.3 503.4,739.1 504.9,738.9 506.4,738.7 507.8,738.5 509.3,738.3 510.7,738.1 512.2,737.9 513.7,737.7 515.1,737.4 516.6,737.2 518,736.9 519.5,736.6 521,736.3 522.4,736 523.9,735.6 525.3,735.2 526.8,734.8 528.3,734.4 529.7,733.9 531.2,733.4 532.6,733 534.1,732.5 535.6,732 537,731.4 538.5,730.9 539.9,730.4 541.4,729.8 542.9,729.2 544.3,728.7 545.8,728.1 547.2,727.5 548.7,726.9 550.2,726.3 551.6,725.7 553.1,725.1 554.5,724.5 556,723.8 557.5,723.2 558.9,722.6 560.4,721.9 561.8,721.3 563.3,720.7 564.8,720 566.2,719.3 567.7,718.6 569.1,717.9 570.6,717.2 572.1,716.5 573.5,715.7 575,714.9 576.4,714 577.9,713.2 579.4,712.3 580.8,711.4 582.3,710.4 583.7,709.5 585.2,708.6 586.7,707.6 588.1,706.6 589.6,705.5 591,704.5 592.5,703.5 594,702.4 595.4,701.3 596.9,700.3 598.3,699.2 599.8,698.1 601.3,697 602.7,695.9 604.2,694.8 605.6,693.7 607.1,692.6 608.6,691.5 610,690.4 611.5,689.2 612.9,687.3 614.4,687.1 615.9,687.2 617.3,687.6 618.8,687.9 620.2,688.1 621.7,688.3 623.2,688.4 624.6,688.5 626.1,688.5 627.5,688.6 629,688.7 630.5,688.7 631.9,688.7 633.4,688.8 634.8,688.8 636.3,688.8 637.8,688.9 639.2,688.9 640.7,688.9 642.1,688.9 643.6,689 645.1,689 646.5,689 648,689 649.4,689.1 650.9,689.1 652.4,689.1 653.8,689.1 655.3,689.1 656.7,689.2 658.2,689.2 659.7,689.2 661.1,689.2 662.6,689.2 664,689.3 665.5,689.3 667,689.3 668.4,689.3 669.9,689.3 671.3,689.4 672.8,689.4 674.3,689.4 675.7,689.4 677.2,689.4 678.6,689.5 680.1,689.5 681.6,689.5 683,689.5 684.5,689.6 685.9,689.6 687.4,689.6 688.9,689.7 690.3,689.7 691.8,689.7 693.2,689.7 694.7,689.8 696.2,689.8 697.6,689.8 699.1,689.9 700.5,689.9 702,689.9 703.5,689.9 704.9,690 706.4,690 707.8,690 709.3,690.1 710.8,690.1 712.2,690.1 713.7,690.2 715.1,690.2 716.6,690.2 718.1,690.3 719.5,690.3 721,690.3 722.4,690.3 723.9,690.4 725.4,690.4 726.8,690.4 728.3,690.5 729.7,690.5 731.2,690.5 732.7,690.6 734.1,690.6 735.6,690.6 737,690.7 738.5,690.7 740,690.7 741.4,690.7 742.9,690.8 744.3,690.8 745.8,690.8 747.3,690.9 748.7,690.9 750.2,690.9 751.6,691 753.1,691" fill="none" stroke="none" marker-start="url(#m9)" marker-mid="url(#m9)" marker-end="url(#m9)"/>
<polyline points="489.8,896.2 490.4,893.7 491,892.4 491.6,891.5 492.2,890.6 492.8,888 493.4,886.4 494,885.2 494.6,884.7 495.5,881.9 496.3,881.6 497.1,879.9 498,877.3 499,876.4 500,874.6 501,872.8 502,872.7 503,869.7 504,868.3 505,868.9 506.8,867.6 508.5,866.9 509.7,868.5 511,869.8 512.2,872.3 512.7,869.3 513.1,867.7 513.6,866.9 514.1,865.2 514.5,864.5 515,862.7 515.9,860.1 516.9,858.1 517.8,857.7 518.7,856.4 519.8,855.7 520.9,858.3 522,859.7 525.1,858.9 525.7,856.5 526.2,856.2 526.8,854.5 527.3,851.9 527.9,851.3 528.4,849 529,847.1 530,846.3 531,845 532.1,843.7 533.1,842.9 535,842.5 537,841.9 539,844 539.9,842.3 540.9,840.2 541.8,837.5 542.7,835.6 543.6,835 544.4,833.4 545.3,832.2 546.1,829.6 547,828.4 547.9,828.4 548.8,826.2 549.6,824.9 550.5,822.3 551.4,821.4 552.3,820.9 553.2,818.9 554.1,818 555.1,814.9 556,813.9 557.1,812.9 558.1,810.5 559.2,809.6 560.3,807.4 562.1,805.9 564,805.2 565.1,805.7 566.1,802.7 567.2,801.6 568.3,800.6 570.1,799.9 572,798.7 573.2,799.5 574.5,801 575.1,800.1 575.7,797.6 576.2,796.2 576.8,795.2 577.4,793.8 578,791.1 579.1,789.4 580.1,787.6 581.2,787 582.6,785.6 584,784.9 584.9,783.2 585.8,780.8 586.7,780.4 587.6,779.5 588.4,776.6 589.2,774.3 590,773.5 590.8,771.7 591.9,772.8 592.9,773.8 594,775.2 597,775.7 598.5,772.6 600,772.2 600.7,769.8 601.4,768.2 602.2,767.8 602.9,765.2 603.6,764 606,766 609.2,752 611,764 613.5,820 617,880 618.8,896.2" fill="none" stroke="#4d4d4d" stroke-width="2.3" stroke-linejoin="round" stroke-linecap="round"/>
<polyline points="490.6,896.2 491,893.8 491.3,892.4 491.7,890.8 492,890.1 492.4,887.7 492.7,886.4 493.1,883.7 493.4,882.7 493.8,881.5 494.9,879.5 496,878.7 496.6,877 497.3,874.5 498,872.3 498.6,871.8 499.6,869.2 500.6,867.4 501.6,867 502.6,865.5 503.8,867 505,868.7 506.2,866.5 507.5,865.3 508.5,866.7 509.4,869.5 510.4,869.4 511.4,870.9 512,869 512.5,867.5 513.1,865.9 513.7,864.8 514.3,862.9 514.8,861.5 515.4,860.9 516,857.9 516.7,857.1 517.4,855.2 518,853.1 518.8,851.3 519.5,849.7 520.3,847.5 520.7,848.6 521,850.3 521.4,851.8 521.8,853.6 522.1,856.2 522.5,856.9 524,857.3 524.3,856.2 524.7,855.1 525,852.7 525.4,851.4 525.7,848.7 526,846.9 526.4,846.2 526.7,843.5 528.4,842.3 530,840.8 531,838.9 532.1,837.1 533.1,835.4 534.5,837.8 536,838.3 536.6,837.1 537.2,834.7 537.8,833.8 538.3,832 538.9,829.9 539.5,828.1 542,830 542.8,827.9 543.6,826.5 544.3,825.4 545.1,822.9 545.9,822.3 546.5,820 547.1,818.4 547.8,817 548.4,815 549,812.4 549.7,811 550.4,809 551.1,807.4 551.8,807.3 552.5,805.1 553.2,804.1 553.9,802.1 555.5,802.1 557,803.7 558.6,802.6 560.3,800.8 562,802.3 562.8,801 563.5,799 564.3,797.6 565.1,795.4 567,797.4 569,798.8 571,797 573,797.4 574,795.7 575,794.1 576,793.3 577,791 578,790.2 579.2,790 580.5,792.6 581.8,792.4 583,793.2 584,793.3 585,791.7 586,790.3 587.6,789.3 589.2,787.5 590.8,785.9 592.4,787.5 594,789.7 597,788.8 598,786.2 599,785.2 600,783.9 601.8,783.5 603.6,781.7 606.5,786 609.7,771.3 611.5,786 614,830 618,896.2" fill="none" stroke="#3b64b1" stroke-width="2.3" stroke-linejoin="round" stroke-linecap="round"/>
<polyline points="637,896.5 640,891 643,896.5 650,896.5 652,893 655,896.5 668,896.5 670,894.5 672,896.5" fill="none" stroke="#3b64b1" stroke-width="1.6" stroke-linejoin="round" stroke-linecap="round"/>
<polyline points="489.1,664.5 493,740 495.4,866.6 497.8,850.6 499.4,868.2 501.5,865 502.5,863 504.2,858.6 506.5,871 509,889 511.4,876 513.8,884.2 517,868.2 520,881 522.6,876 525.1,889 528,875 531.5,861.8 533.9,847.4 536.3,875 539.5,885.8 541.9,866.6 544.3,857 548.3,857 551,862 553.1,876.2 556.3,852.2 558.7,855.4 562.7,836.2 565.9,849 569.1,837.8 572.3,852.2 577,822 581.2,794.5 584.4,793 587.6,781.7 590.8,796 594,788 596.4,796.9 600.4,780.1 604.4,778.5 608.4,783.3 611.6,780 616.4,772.9 618.8,777 622,840 626,896.5" fill="none" stroke="#e8383d" stroke-width="2.3" stroke-linejoin="round" stroke-linecap="round"/>
<polyline points="879,741.8 880.6,741.6 882.2,741.4 883.8,741.2 885.4,741 887,740.8 888.6,740.6 890.2,740.4 891.8,740.2 893.4,740 895,739.8 896.6,739.6 898.2,739.4 899.8,739.2 901.4,738.9 903,738.7 904.6,738.5 906.2,738.3 907.8,738.1 909.4,737.9 911,737.7 912.6,737.5 914.2,737.3 915.8,737.2 917.4,737 919,736.8 920.6,736.6 922.2,736.4 923.8,736.2 925.4,736 927,735.8 928.6,735.6 930.2,735.4 931.8,735.3 933.4,735.1 935,734.9 936.6,734.8 938.2,734.6 939.8,734.5 941.4,734.4 943,734.2 944.6,734.1 946.2,734 947.8,733.9 949.4,733.7 951,733.6 952.6,733.5 954.2,733.4 955.8,733.2 957.4,733.1 959,733 960.6,732.8 962.2,732.7 963.8,732.5 965.4,732.4 967,732.2 968.6,732 970.2,731.8 971.8,731.6 973.4,731.4 975,731.2 976.6,731 978.2,730.7 979.8,730.4 981.4,730.1 983,729.9 984.6,729.5 986.2,729.2 987.8,728.9 989.4,728.5 991,728.2 992.6,727.8 994.2,727.4 995.8,727.1 997.4,726.7 999,726.3 1000.6,725.9 1002.2,725.5 1003.8,725.1 1005.4,724.7 1007,724.2 1008.6,723.8 1010.2,723.4 1011.8,723 1013.4,722.6 1015,722.2 1016.6,721.8 1018.2,721.4 1019.8,721 1021.4,720.6 1023,720.3 1024.6,719.9 1026.2,719.5 1027.8,719.2 1029.4,718.8 1031,718.5 1032.6,718.1 1034.2,717.8 1035.8,717.5 1037.4,717.1 1039,716.8 1040.6,716.5 1042.2,716.2 1043.8,715.9 1045.4,715.5 1047,715.2 1048.6,714.9 1050.2,714.6 1051.8,714.3 1053.4,714 1055,713.6 1056.6,713.3 1058.2,713 1059.8,712.7 1061.4,712.4 1063,712.1 1064.6,711.8 1066.2,711.5 1067.8,711.1 1069.4,710.8 1071,710.5 1072.6,710.2 1074.2,709.9 1075.8,709.6 1077.4,709.2 1079,708.9 1080.6,708.6 1082.2,708.2 1083.8,707.9 1085.4,707.5 1087,707.2 1088.6,706.8 1090.2,706.5 1091.8,706.1 1093.4,705.8 1095,705.4 1096.6,705.1 1098.2,704.8 1099.8,704.4 1101.4,704.1 1103,703.8 1104.6,703.4 1106.2,703.1 1107.8,702.8 1109.4,702.6 1111,702.3 1112.6,702 1114.2,701.8 1115.8,701.6 1117.4,701.5 1119,701.3 1120.6,701.2 1122.2,701.1 1123.8,701.1 1125.4,701 1127,701 1128.6,701 1130.2,701.1 1131.8,701.1 1133.4,701.2 1135,701.2 1136.6,701.3 1138.2,701.4 1139.8,701.5 1141.4,701.5 1143,701.6" fill="none" stroke="none" marker-start="url(#m10)" marker-mid="url(#m10)" marker-end="url(#m10)"/>
<polyline points="879,727.9 880.5,727.6 881.9,727.7 883.4,727.2 884.8,726.9 886.3,727 887.8,727.3 889.2,726.9 890.7,726.6 892.1,725.9 893.6,726 895.1,725.5 896.5,725.2 898,724.9 899.4,724.8 900.9,725.3 902.4,725 903.8,724.8 905.3,724.6 906.7,723.8 908.2,723.8 909.7,723.9 911.1,723.9 912.6,723.8 914,723.7 915.5,722.8 917,723.2 918.4,723.2 919.9,722.9 921.3,722.5 922.8,722.7 924.3,722.2 925.7,723 927.2,722.9 928.6,722.5 930.1,722.2 931.6,722.7 933,722.3 934.5,722.5 935.9,722.5 937.4,722.1 938.9,721.9 940.3,722 941.8,721.8 943.2,721.5 944.7,721.6 946.2,722 947.6,721.2 949.1,721.1 950.5,721.7 952,721.3 953.5,721.4 954.9,721.3 956.4,721.1 957.8,721.7 959.3,720.8 960.8,720.9 962.2,720.6 963.7,721 965.1,720.5 966.6,720.5 968.1,720.8 969.5,720.2 971,720.4 972.4,720.6 973.9,719.7 975.4,719.5 976.8,719.6 978.3,720 979.7,719.7 981.2,719.2 982.7,719.1 984.1,718.8 985.6,718.9 987,718.3 988.5,718.8 990,718.8 991.4,718.7 992.9,718.3 994.3,718.3 995.8,717.1 997.3,717.1 998.7,717.5 1000.2,717.1 1001.6,716.4 1003.1,716.7 1004.6,716 1006,715.9 1007.5,715 1008.9,714.6 1010.4,714.5 1011.9,713.8 1013.3,713.6 1014.8,713.8 1016.2,712.7 1017.7,712 1019.2,711.6 1020.6,711.2 1022.1,711.3 1023.5,710.2 1025,709.5 1026.5,708.6 1027.9,708.8 1029.4,707.5 1030.8,706.6 1032.3,705.7 1033.8,705 1035.2,704.5 1036.7,704.4 1038.1,703.3 1039.6,702.5 1041.1,702.4 1042.5,701.5 1044,701.7 1045.4,700.2 1046.9,700 1048.4,699.6 1049.8,698.7 1051.3,698.7 1052.7,697.6 1054.2,696.8 1055.7,696.4 1057.1,695.5 1058.6,695.4 1060,694.7 1061.5,694.8 1063,694.2 1064.4,693.4 1065.9,692.5 1067.3,692.2 1068.8,691.8 1070.3,691.3 1071.7,690.9 1073.2,691.1 1074.6,689.9 1076.1,689.4 1077.6,689.9 1079,689.1 1080.5,689.2 1081.9,688.2 1083.4,688.3 1084.9,687.8 1086.3,687.5 1087.8,687.1 1089.2,686.5 1090.7,685.9 1092.2,685.8 1093.6,686.3 1095.1,686.3 1096.5,686.3 1098,685.7 1099.5,686 1100.9,686.1 1102.4,686 1103.8,686.1 1105.3,685.9 1106.8,686 1108.2,686.1 1109.7,685.7 1111.1,686.4 1112.6,686.5 1114.1,685.7 1115.5,686.7 1117,686.7 1118.4,686.5 1119.9,685.9 1121.4,686.8 1122.8,686.1 1124.3,687 1125.7,686.8 1127.2,686.2 1128.7,686.4 1130.1,686.9 1131.6,686.9 1133,687.2 1134.5,687.4 1136,686.8 1137.4,686.6 1138.9,687.6 1140.3,686.8 1141.8,687.7 1143.3,687" fill="none" stroke="none" marker-start="url(#m6)" marker-mid="url(#m6)" marker-end="url(#m6)"/>
<polyline points="880.5,730.1 882,730 883.4,729.9 884.9,729.8 886.3,729.3 887.8,729.3 889.3,728.2 890.7,728.4 892.2,728.6 893.6,728.1 895.1,728.1 896.6,727.1 898,727.3 899.5,726.8 900.9,726.9 902.4,726.7 903.9,726 905.3,726 906.8,725.9 908.2,726.3 909.7,726 911.2,725.2 912.6,725.7 914.1,724.9 915.5,725.3 917,724.6 918.5,724.4 919.9,725.2 921.4,724.4 922.8,724.3 924.3,725 925.8,724.8 927.2,724.2 928.7,724.8 930.1,724.3 931.6,724.3 933.1,723.8 934.5,724.5 936,724.2 937.4,724.4 938.9,724.2 940.4,723.6 941.8,723.6 943.3,723.3 944.7,723.3 946.2,723.1 947.7,723.3 949.1,723.6 950.6,722.9 952,723.5 953.5,723.1 955,723 956.4,723.5 957.9,723.1 959.3,722.8 960.8,722.9 962.3,723 963.7,722.3 965.2,723.1 966.6,722.1 968.1,722.7 969.6,722.7 971,721.7 972.5,722.4 973.9,721.9 975.4,722 976.9,721.3 978.3,721.2 979.8,721.2 981.2,721.8 982.7,720.9 984.2,721.3 985.6,721.4 987.1,721.2 988.5,720.4 990,720.3 991.5,720.3 992.9,720.3 994.4,719.4 995.8,719.8 997.3,719.7 998.8,719.5 1000.2,718.4 1001.7,719 1003.1,717.9 1004.6,717.9 1006.1,717.8 1007.5,717.8 1009,716.9 1010.4,717.1 1011.9,716.4 1013.4,715.8 1014.8,715.4 1016.3,714.8 1017.7,714.3 1019.2,713.9 1020.7,714 1022.1,713.8 1023.6,712.4 1025,711.7 1026.5,712 1028,710.9 1029.4,710 1030.9,709.1 1032.3,708.7 1033.8,708.3 1035.3,707.2 1036.7,706.6 1038.2,705.6 1039.6,705.8 1041.1,704.3 1042.6,704.2 1044,703.9 1045.5,702.6 1046.9,702.6 1048.4,702.2 1049.9,701.3 1051.3,700.9 1052.8,699.6 1054.2,699.4 1055.7,698.5 1057.2,698.6 1058.6,697.5 1060.1,697.2 1061.5,697.2 1063,696.6 1064.5,696.2 1065.9,695.2 1067.4,694.7 1068.8,694.5 1070.3,693.8 1071.8,693.2 1073.2,692.8 1074.7,692.1 1076.1,691.9 1077.6,692.1 1079.1,691.7 1080.5,691 1082,690.5 1083.4,689.9 1084.9,689.3 1086.4,689.2 1087.8,689.3 1089.3,689 1090.7,688.2 1092.2,688.4 1093.7,688.2 1095.1,688 1096.6,687.9 1098,687.9 1099.5,687.5 1101,687.8 1102.4,687.4 1103.9,687.6 1105.3,687.9 1106.8,687.9 1108.3,687.5 1109.7,688.2 1111.2,687.9 1112.6,687.9 1114.1,687.4 1115.6,688 1117,687.7 1118.5,688.2 1119.9,688.1 1121.4,688.5 1122.9,688.4 1124.3,688.6 1125.8,688.2 1127.2,688.6 1128.7,688.7 1130.2,688.9 1131.6,688.5 1133.1,689 1134.5,689.1 1136,689 1137.5,689.4 1138.9,689.4 1140.4,689 1141.8,689.1 1143.3,688.8 1144.8,689.5" fill="none" stroke="none" marker-start="url(#m6)" marker-mid="url(#m6)" marker-end="url(#m6)"/>
<polyline points="879,739.4 880.5,739.1 881.9,738.9 883.4,738.6 884.8,738.3 886.3,738.1 887.8,737.8 889.2,737.6 890.7,737.3 892.1,737.1 893.6,736.8 895.1,736.5 896.5,736.3 898,736 899.4,735.7 900.9,735.4 902.4,735.1 903.8,734.8 905.3,734.5 906.7,734.2 908.2,733.8 909.7,733.5 911.1,733.1 912.6,732.7 914,732.3 915.5,731.9 917,731.4 918.4,731 919.9,730.5 921.3,730 922.8,729.5 924.3,729 925.7,728.4 927.2,727.8 928.6,727.3 930.1,726.7 931.6,726.1 933,725.5 934.5,724.9 935.9,724.2 937.4,723.6 938.9,722.9 940.3,722.3 941.8,721.6 943.2,720.9 944.7,720.2 946.2,719.6 947.6,718.8 949.1,718.1 950.5,717.4 952,716.6 953.5,715.8 954.9,715 956.4,714.2 957.8,713.4 959.3,712.5 960.8,711.7 962.2,710.9 963.7,710 965.1,709.2 966.6,708.3 968.1,707.5 969.5,706.6 971,705.8 972.4,705 973.9,704.2 975.4,703.4 976.8,702.7 978.3,701.9 979.7,701.2 981.2,700.4 982.7,699.7 984.1,698.9 985.6,698.1 987,697.4 988.5,696.6 990,695.8 991.4,695.1 992.9,694.4 994.3,693.7 995.8,693 997.3,692.5 998.7,691.9 1000.2,691.4 1001.6,690.9 1003.1,690.6 1004.6,690.2 1006,689.9 1007.5,689.6 1008.9,689.4 1010.4,689.2 1011.9,689 1013.3,688.9 1014.8,688.8 1016.2,688.7 1017.7,688.6 1019.2,688.6 1020.6,688.6 1022.1,688.6 1023.5,688.6 1025,688.6 1026.5,688.6 1027.9,688.6 1029.4,688.7 1030.8,688.7 1032.3,688.8 1033.8,688.8 1035.2,688.9 1036.7,688.9 1038.1,689 1039.6,689.1 1041.1,689.1 1042.5,689.2 1044,689.3 1045.4,689.3 1046.9,689.4 1048.4,689.4 1049.8,689.5 1051.3,689.5 1052.7,689.5 1054.2,689.6 1055.7,689.6 1057.1,689.6 1058.6,689.7 1060,689.7 1061.5,689.8 1063,689.8 1064.4,689.9 1065.9,689.9 1067.3,690 1068.8,690.1 1070.3,690.1 1071.7,690.2 1073.2,690.3 1074.6,690.3 1076.1,690.4 1077.6,690.5 1079,690.5 1080.5,690.6 1081.9,690.7 1083.4,690.7 1084.9,690.8 1086.3,690.9 1087.8,690.9 1089.2,691 1090.7,691.1 1092.2,691.1 1093.6,691.2 1095.1,691.2 1096.5,691.3 1098,691.4 1099.5,691.4 1100.9,691.5 1102.4,691.5 1103.8,691.6 1105.3,691.7 1106.8,691.7 1108.2,691.8 1109.7,691.8 1111.1,691.9 1112.6,691.9 1114.1,692 1115.5,692.1 1117,692.1 1118.4,692.2 1119.9,692.2 1121.4,692.3 1122.8,692.4 1124.3,692.4 1125.7,692.5 1127.2,692.5 1128.7,692.6 1130.1,692.7 1131.6,692.7 1133,692.8 1134.5,692.8 1136,692.9 1137.4,693 1138.9,693 1140.3,693.1 1141.8,693.1 1143.3,693.2" fill="none" stroke="none" marker-start="url(#m8)" marker-mid="url(#m8)" marker-end="url(#m8)"/>
<polyline points="879.8,740.9 881.3,740.6 882.7,740.4 884.2,740.1 885.6,739.8 887.1,739.6 888.6,739.3 890,739.1 891.5,738.8 892.9,738.6 894.4,738.3 895.9,738 897.3,737.8 898.8,737.5 900.2,737.2 901.7,736.9 903.2,736.6 904.6,736.3 906.1,736 907.5,735.7 909,735.3 910.5,735 911.9,734.6 913.4,734.2 914.8,733.8 916.3,733.4 917.8,732.9 919.2,732.5 920.7,732 922.1,731.5 923.6,731 925.1,730.5 926.5,729.9 928,729.3 929.4,728.8 930.9,728.2 932.4,727.6 933.8,727 935.3,726.4 936.7,725.7 938.2,725.1 939.7,724.4 941.1,723.8 942.6,723.1 944,722.4 945.5,721.7 947,721.1 948.4,720.3 949.9,719.6 951.3,718.9 952.8,718.1 954.3,717.3 955.7,716.5 957.2,715.7 958.6,714.9 960.1,714 961.6,713.2 963,712.4 964.5,711.5 965.9,710.7 967.4,709.8 968.9,709 970.3,708.1 971.8,707.3 973.2,706.5 974.7,705.7 976.2,704.9 977.6,704.2 979.1,703.4 980.5,702.7 982,701.9 983.5,701.2 984.9,700.4 986.4,699.6 987.8,698.9 989.3,698.1 990.8,697.3 992.2,696.6 993.7,695.9 995.1,695.2 996.6,694.5 998.1,694 999.5,693.4 1001,692.9 1002.4,692.4 1003.9,692.1 1005.4,691.7 1006.8,691.4 1008.3,691.1 1009.7,690.9 1011.2,690.7 1012.7,690.5 1014.1,690.4 1015.6,690.3 1017,690.2 1018.5,690.1 1020,690.1 1021.4,690.1 1022.9,690.1 1024.3,690.1 1025.8,690.1 1027.3,690.1 1028.7,690.1 1030.2,690.2 1031.6,690.2 1033.1,690.3 1034.6,690.3 1036,690.4 1037.5,690.4 1038.9,690.5 1040.4,690.6 1041.9,690.6 1043.3,690.7 1044.8,690.8 1046.2,690.8 1047.7,690.9 1049.2,690.9 1050.6,691 1052.1,691 1053.5,691 1055,691.1 1056.5,691.1 1057.9,691.1 1059.4,691.2 1060.8,691.2 1062.3,691.3 1063.8,691.3 1065.2,691.4 1066.7,691.4 1068.1,691.5 1069.6,691.6 1071.1,691.6 1072.5,691.7 1074,691.8 1075.4,691.8 1076.9,691.9 1078.4,692 1079.8,692 1081.3,692.1 1082.7,692.2 1084.2,692.2 1085.7,692.3 1087.1,692.4 1088.6,692.4 1090,692.5 1091.5,692.6 1093,692.6 1094.4,692.7 1095.9,692.7 1097.3,692.8 1098.8,692.9 1100.3,692.9 1101.7,693 1103.2,693 1104.6,693.1 1106.1,693.2 1107.6,693.2 1109,693.3 1110.5,693.3 1111.9,693.4 1113.4,693.4 1114.9,693.5 1116.3,693.6 1117.8,693.6 1119.2,693.7 1120.7,693.7 1122.2,693.8 1123.6,693.9 1125.1,693.9 1126.5,694 1128,694 1129.5,694.1 1130.9,694.2 1132.4,694.2 1133.8,694.3 1135.3,694.3 1136.8,694.4 1138.2,694.5 1139.7,694.5 1141.1,694.6 1142.6,694.6 1144.1,694.7" fill="none" stroke="none" marker-start="url(#m9)" marker-mid="url(#m9)" marker-end="url(#m9)"/>
<polyline points="879.6,896.3 882.8,891.1 886.7,886.5 898.4,886.5 899.1,882 916.7,882 919.3,887.2 924.5,887.2 927.1,882 931,882 936.2,876.8 947.9,877.4 950.5,874.2 953.1,874.2 957,878.1 960.9,878.1 963.5,872.9 966.1,869 971.4,869 974.6,878.1 977.9,870.3 980.5,874.2 983.1,865.7 992.2,867 1000,872.9 1003.9,871.6 1010.4,863.8 1014.3,865.1 1018.2,859.8 1020.8,865.7 1024.7,858.5 1031,859.2 1036,861 1040,856 1044,858 1050.5,856.5 1055,858 1061.6,853.7 1066,855 1070,851 1078.3,850.9 1083,849 1088,853 1095.1,853.7 1100,857 1106.2,862 1111,860 1117.3,867.6 1122,871 1128.5,881.5 1136.8,896.8" fill="none" stroke="#4d4d4d" stroke-width="2.3" stroke-linejoin="round" stroke-linecap="round"/>
<polyline points="879.6,895 882.8,891.1 888,866.4 890,869 892.6,859.8 894.5,859.8 896.5,865.7 899.1,866.4 901,861.1 905.6,861.8 907.6,852 909.5,857.2 912.1,848.8 915.4,849.4 917.3,841 919.9,841.6 922.5,833.8 927.7,835.8 929.7,829.2 932.9,829.9 935.5,816.2 939.5,818.8 942.1,813 946,816.2 949.2,805.2 952.5,807.8 955.1,799.9 958.3,794.1 960.9,787.6 963.5,788.2 967.4,785 970.1,790.2 972,790.2 974.6,799.9 977.9,799.9 981.1,799.9 985.7,802.6 989.6,809.1 992.2,813 994.8,826 997.4,831.2 1001.3,835.1 1003.9,842.9 1006.5,852 1009.1,867.7 1013,883.3 1015,896.3" fill="none" stroke="#3b64b1" stroke-width="2.3" stroke-linejoin="round" stroke-linecap="round"/>
<polyline points="1039,896.5 1044,893 1048,896 1051,887 1054.7,884.3 1056,896.5" fill="none" stroke="#3b64b1" stroke-width="1.8" stroke-linejoin="round" stroke-linecap="round"/>
<polyline points="880.8,664.8 885.4,896.3 888,863.8 891.9,889.1 894.5,852 896.5,880.7 899.1,859.8 901,896.3 904.9,865.1 907.6,896.3 909.5,872.9 912.8,896.3 916.7,850.1 919.3,862.4 924.5,896.3 927.1,878.1 929.7,896.3 933.6,862.4 936.2,892.4 940.1,889.8 943.4,883.3 946.6,887.2 949.9,863.8 953.1,887.2 955.7,875.5 958.3,896.3 962.9,876.8 966.1,896.3 968.8,842.9 971.4,896.3 974.6,887.2 977.9,896.3 979.8,850.7 983.1,862.4 985.7,884.6 988.9,880.7 992.2,887.2 996.1,862.4 998,896.3 1001.3,859.8 1003.9,880.7 1005.2,861.1 1010.4,853.3 1013.7,849.4 1016.3,854.6 1018.2,854.6 1024.7,822.1 1028.2,817.5 1032,823 1035,820 1038,825 1042.1,818.9 1045,823 1048,822 1052,827 1058.9,831.4 1064,834 1068,836 1072.8,839.7 1076,842 1081.1,848.1 1085,850 1089.5,853.7 1095.1,864.8 1100.6,896.8" fill="none" stroke="#e8383d" stroke-width="2.3" stroke-linejoin="round" stroke-linecap="round"/>
<polyline points="1124,896.5 1127,888 1131,888 1133,896.5" fill="none" stroke="#e8383d" stroke-width="1.8" stroke-linejoin="round" stroke-linecap="round"/>
</svg>
</body></html>
